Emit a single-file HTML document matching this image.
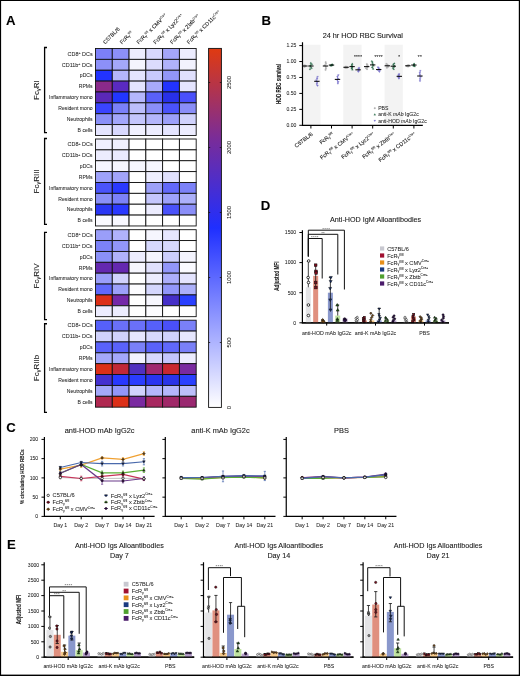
<!DOCTYPE html>
<html><head><meta charset="utf-8"><style>
html,body{margin:0;padding:0;background:#fff;}
text{stroke:#1a1a1a;stroke-width:0.1px;}
body{width:520px;height:676px;overflow:hidden;}
svg{display:block;font-family:"Liberation Sans", sans-serif;will-change:transform;}
</style></head><body>
<svg width="520" height="676" viewBox="0 0 520 676">
<rect x="0" y="0" width="520" height="676" fill="#fff"/>
<rect x="95.50" y="48.50" width="16.78" height="10.87" fill="#7c80f8" stroke="#111" stroke-width="0.9"/>
<rect x="112.28" y="48.50" width="16.78" height="10.87" fill="#8c90f8" stroke="#111" stroke-width="0.9"/>
<rect x="129.06" y="48.50" width="16.78" height="10.87" fill="#ececfe" stroke="#111" stroke-width="0.9"/>
<rect x="145.84" y="48.50" width="16.78" height="10.87" fill="#d8d8fd" stroke="#111" stroke-width="0.9"/>
<rect x="162.62" y="48.50" width="16.78" height="10.87" fill="#a4a6fa" stroke="#111" stroke-width="0.9"/>
<rect x="179.40" y="48.50" width="16.78" height="10.87" fill="#ececfe" stroke="#111" stroke-width="0.9"/>
<text x="92.60" y="55.73" font-size="5.1" text-anchor="end" fill="#1a1a1a" textLength="25.0" lengthAdjust="spacingAndGlyphs" style="stroke-width:0.04px">CD8<tspan font-size="3.3" dy="-1.6">+</tspan><tspan dy="1.6"> DCs</tspan></text>
<rect x="95.50" y="59.37" width="16.78" height="10.87" fill="#8c90f8" stroke="#111" stroke-width="0.9"/>
<rect x="112.28" y="59.37" width="16.78" height="10.87" fill="#a4a8fa" stroke="#111" stroke-width="0.9"/>
<rect x="129.06" y="59.37" width="16.78" height="10.87" fill="#f4f4fe" stroke="#111" stroke-width="0.9"/>
<rect x="145.84" y="59.37" width="16.78" height="10.87" fill="#dcdcfd" stroke="#111" stroke-width="0.9"/>
<rect x="162.62" y="59.37" width="16.78" height="10.87" fill="#b0b2fb" stroke="#111" stroke-width="0.9"/>
<rect x="179.40" y="59.37" width="16.78" height="10.87" fill="#f2f2fe" stroke="#111" stroke-width="0.9"/>
<text x="92.60" y="66.60" font-size="5.1" text-anchor="end" fill="#1a1a1a" textLength="30.8" lengthAdjust="spacingAndGlyphs" style="stroke-width:0.04px">CD11b<tspan font-size="3.3" dy="-1.6">+</tspan><tspan dy="1.6"> DCs</tspan></text>
<rect x="95.50" y="70.24" width="16.78" height="10.87" fill="#2233ff" stroke="#111" stroke-width="0.9"/>
<rect x="112.28" y="70.24" width="16.78" height="10.87" fill="#b4b6fb" stroke="#111" stroke-width="0.9"/>
<rect x="129.06" y="70.24" width="16.78" height="10.87" fill="#e4e4fe" stroke="#111" stroke-width="0.9"/>
<rect x="145.84" y="70.24" width="16.78" height="10.87" fill="#c8c9fc" stroke="#111" stroke-width="0.9"/>
<rect x="162.62" y="70.24" width="16.78" height="10.87" fill="#9296f9" stroke="#111" stroke-width="0.9"/>
<rect x="179.40" y="70.24" width="16.78" height="10.87" fill="#e0e0fd" stroke="#111" stroke-width="0.9"/>
<text x="92.60" y="77.47" font-size="5.1" text-anchor="end" fill="#1a1a1a" style="stroke-width:0.04px">pDCs</text>
<rect x="95.50" y="81.11" width="16.78" height="10.87" fill="#8a2a8a" stroke="#111" stroke-width="0.9"/>
<rect x="112.28" y="81.11" width="16.78" height="10.87" fill="#5a2ac0" stroke="#111" stroke-width="0.9"/>
<rect x="129.06" y="81.11" width="16.78" height="10.87" fill="#e4e4fe" stroke="#111" stroke-width="0.9"/>
<rect x="145.84" y="81.11" width="16.78" height="10.87" fill="#a8aafa" stroke="#111" stroke-width="0.9"/>
<rect x="162.62" y="81.11" width="16.78" height="10.87" fill="#2233ff" stroke="#111" stroke-width="0.9"/>
<rect x="179.40" y="81.11" width="16.78" height="10.87" fill="#e4e4fe" stroke="#111" stroke-width="0.9"/>
<text x="92.60" y="88.34" font-size="5.1" text-anchor="end" fill="#1a1a1a" style="stroke-width:0.04px">RPMs</text>
<rect x="95.50" y="91.98" width="16.78" height="10.87" fill="#5a28b8" stroke="#111" stroke-width="0.9"/>
<rect x="112.28" y="91.98" width="16.78" height="10.87" fill="#2236ff" stroke="#111" stroke-width="0.9"/>
<rect x="129.06" y="91.98" width="16.78" height="10.87" fill="#b4b6fb" stroke="#111" stroke-width="0.9"/>
<rect x="145.84" y="91.98" width="16.78" height="10.87" fill="#5a60fa" stroke="#111" stroke-width="0.9"/>
<rect x="162.62" y="91.98" width="16.78" height="10.87" fill="#2830e8" stroke="#111" stroke-width="0.9"/>
<rect x="179.40" y="91.98" width="16.78" height="10.87" fill="#4a50fa" stroke="#111" stroke-width="0.9"/>
<text x="92.60" y="99.21" font-size="5.1" text-anchor="end" fill="#1a1a1a" style="stroke-width:0.04px">Inflammatory mono</text>
<rect x="95.50" y="102.85" width="16.78" height="10.87" fill="#3a44ff" stroke="#111" stroke-width="0.9"/>
<rect x="112.28" y="102.85" width="16.78" height="10.87" fill="#7a80f8" stroke="#111" stroke-width="0.9"/>
<rect x="129.06" y="102.85" width="16.78" height="10.87" fill="#bcbefb" stroke="#111" stroke-width="0.9"/>
<rect x="145.84" y="102.85" width="16.78" height="10.87" fill="#8a8ef8" stroke="#111" stroke-width="0.9"/>
<rect x="162.62" y="102.85" width="16.78" height="10.87" fill="#4a52fa" stroke="#111" stroke-width="0.9"/>
<rect x="179.40" y="102.85" width="16.78" height="10.87" fill="#8a8ef8" stroke="#111" stroke-width="0.9"/>
<text x="92.60" y="110.08" font-size="5.1" text-anchor="end" fill="#1a1a1a" style="stroke-width:0.04px">Resident mono</text>
<rect x="95.50" y="113.72" width="16.78" height="10.87" fill="#8a90f8" stroke="#111" stroke-width="0.9"/>
<rect x="112.28" y="113.72" width="16.78" height="10.87" fill="#a2a6fa" stroke="#111" stroke-width="0.9"/>
<rect x="129.06" y="113.72" width="16.78" height="10.87" fill="#c4c6fc" stroke="#111" stroke-width="0.9"/>
<rect x="145.84" y="113.72" width="16.78" height="10.87" fill="#b4b6fb" stroke="#111" stroke-width="0.9"/>
<rect x="162.62" y="113.72" width="16.78" height="10.87" fill="#9ca0f9" stroke="#111" stroke-width="0.9"/>
<rect x="179.40" y="113.72" width="16.78" height="10.87" fill="#d0d2fc" stroke="#111" stroke-width="0.9"/>
<text x="92.60" y="120.95" font-size="5.1" text-anchor="end" fill="#1a1a1a" style="stroke-width:0.04px">Neutrophils</text>
<rect x="95.50" y="124.59" width="16.78" height="10.87" fill="#e4e4fe" stroke="#111" stroke-width="0.9"/>
<rect x="112.28" y="124.59" width="16.78" height="10.87" fill="#d8d8fd" stroke="#111" stroke-width="0.9"/>
<rect x="129.06" y="124.59" width="16.78" height="10.87" fill="#f0f0fe" stroke="#111" stroke-width="0.9"/>
<rect x="145.84" y="124.59" width="16.78" height="10.87" fill="#ececfe" stroke="#111" stroke-width="0.9"/>
<rect x="162.62" y="124.59" width="16.78" height="10.87" fill="#e4e4fe" stroke="#111" stroke-width="0.9"/>
<rect x="179.40" y="124.59" width="16.78" height="10.87" fill="#ececfe" stroke="#111" stroke-width="0.9"/>
<text x="92.60" y="131.82" font-size="5.1" text-anchor="end" fill="#1a1a1a" style="stroke-width:0.04px">B cells</text>
<path d="M47.0,47.50 H44.6 V132.70 H47.0" fill="none" stroke="#000" stroke-width="1.3"/>
<text transform="translate(39.2,90.10) rotate(-90)" font-size="8" text-anchor="middle" fill="#1a1a1a">Fc<tspan font-size="5.5" dy="1.2">γ</tspan><tspan dy="-1.2">RI</tspan></text>
<rect x="95.50" y="139.00" width="16.78" height="10.87" fill="#f0f0fe" stroke="#111" stroke-width="0.9"/>
<rect x="112.28" y="139.00" width="16.78" height="10.87" fill="#f0f0fe" stroke="#111" stroke-width="0.9"/>
<rect x="129.06" y="139.00" width="16.78" height="10.87" fill="#ffffff" stroke="#111" stroke-width="0.9"/>
<rect x="145.84" y="139.00" width="16.78" height="10.87" fill="#ffffff" stroke="#111" stroke-width="0.9"/>
<rect x="162.62" y="139.00" width="16.78" height="10.87" fill="#ffffff" stroke="#111" stroke-width="0.9"/>
<rect x="179.40" y="139.00" width="16.78" height="10.87" fill="#ffffff" stroke="#111" stroke-width="0.9"/>
<text x="92.60" y="146.24" font-size="5.1" text-anchor="end" fill="#1a1a1a" textLength="25.0" lengthAdjust="spacingAndGlyphs" style="stroke-width:0.04px">CD8<tspan font-size="3.3" dy="-1.6">+</tspan><tspan dy="1.6"> DCs</tspan></text>
<rect x="95.50" y="149.87" width="16.78" height="10.87" fill="#ececfe" stroke="#111" stroke-width="0.9"/>
<rect x="112.28" y="149.87" width="16.78" height="10.87" fill="#eaeafe" stroke="#111" stroke-width="0.9"/>
<rect x="129.06" y="149.87" width="16.78" height="10.87" fill="#ffffff" stroke="#111" stroke-width="0.9"/>
<rect x="145.84" y="149.87" width="16.78" height="10.87" fill="#ffffff" stroke="#111" stroke-width="0.9"/>
<rect x="162.62" y="149.87" width="16.78" height="10.87" fill="#ffffff" stroke="#111" stroke-width="0.9"/>
<rect x="179.40" y="149.87" width="16.78" height="10.87" fill="#ffffff" stroke="#111" stroke-width="0.9"/>
<text x="92.60" y="157.11" font-size="5.1" text-anchor="end" fill="#1a1a1a" textLength="30.8" lengthAdjust="spacingAndGlyphs" style="stroke-width:0.04px">CD11b<tspan font-size="3.3" dy="-1.6">+</tspan><tspan dy="1.6"> DCs</tspan></text>
<rect x="95.50" y="160.74" width="16.78" height="10.87" fill="#f6f6fe" stroke="#111" stroke-width="0.9"/>
<rect x="112.28" y="160.74" width="16.78" height="10.87" fill="#f6f6fe" stroke="#111" stroke-width="0.9"/>
<rect x="129.06" y="160.74" width="16.78" height="10.87" fill="#f6f6fe" stroke="#111" stroke-width="0.9"/>
<rect x="145.84" y="160.74" width="16.78" height="10.87" fill="#f6f6fe" stroke="#111" stroke-width="0.9"/>
<rect x="162.62" y="160.74" width="16.78" height="10.87" fill="#ffffff" stroke="#111" stroke-width="0.9"/>
<rect x="179.40" y="160.74" width="16.78" height="10.87" fill="#ffffff" stroke="#111" stroke-width="0.9"/>
<text x="92.60" y="167.98" font-size="5.1" text-anchor="end" fill="#1a1a1a" style="stroke-width:0.04px">pDCs</text>
<rect x="95.50" y="171.61" width="16.78" height="10.87" fill="#9ea2fa" stroke="#111" stroke-width="0.9"/>
<rect x="112.28" y="171.61" width="16.78" height="10.87" fill="#a2a4fa" stroke="#111" stroke-width="0.9"/>
<rect x="129.06" y="171.61" width="16.78" height="10.87" fill="#ffffff" stroke="#111" stroke-width="0.9"/>
<rect x="145.84" y="171.61" width="16.78" height="10.87" fill="#eeeefe" stroke="#111" stroke-width="0.9"/>
<rect x="162.62" y="171.61" width="16.78" height="10.87" fill="#e0e0fd" stroke="#111" stroke-width="0.9"/>
<rect x="179.40" y="171.61" width="16.78" height="10.87" fill="#ffffff" stroke="#111" stroke-width="0.9"/>
<text x="92.60" y="178.85" font-size="5.1" text-anchor="end" fill="#1a1a1a" style="stroke-width:0.04px">RPMs</text>
<rect x="95.50" y="182.48" width="16.78" height="10.87" fill="#4a54fa" stroke="#111" stroke-width="0.9"/>
<rect x="112.28" y="182.48" width="16.78" height="10.87" fill="#2a38ff" stroke="#111" stroke-width="0.9"/>
<rect x="129.06" y="182.48" width="16.78" height="10.87" fill="#ffffff" stroke="#111" stroke-width="0.9"/>
<rect x="145.84" y="182.48" width="16.78" height="10.87" fill="#9ca0f9" stroke="#111" stroke-width="0.9"/>
<rect x="162.62" y="182.48" width="16.78" height="10.87" fill="#6268f9" stroke="#111" stroke-width="0.9"/>
<rect x="179.40" y="182.48" width="16.78" height="10.87" fill="#7c82f8" stroke="#111" stroke-width="0.9"/>
<text x="92.60" y="189.72" font-size="5.1" text-anchor="end" fill="#1a1a1a" style="stroke-width:0.04px">Inflammatory mono</text>
<rect x="95.50" y="193.35" width="16.78" height="10.87" fill="#8a90f8" stroke="#111" stroke-width="0.9"/>
<rect x="112.28" y="193.35" width="16.78" height="10.87" fill="#7c82f8" stroke="#111" stroke-width="0.9"/>
<rect x="129.06" y="193.35" width="16.78" height="10.87" fill="#ffffff" stroke="#111" stroke-width="0.9"/>
<rect x="145.84" y="193.35" width="16.78" height="10.87" fill="#c4c6fc" stroke="#111" stroke-width="0.9"/>
<rect x="162.62" y="193.35" width="16.78" height="10.87" fill="#9ea2fa" stroke="#111" stroke-width="0.9"/>
<rect x="179.40" y="193.35" width="16.78" height="10.87" fill="#acb0fa" stroke="#111" stroke-width="0.9"/>
<text x="92.60" y="200.59" font-size="5.1" text-anchor="end" fill="#1a1a1a" style="stroke-width:0.04px">Resident mono</text>
<rect x="95.50" y="204.22" width="16.78" height="10.87" fill="#2a36f4" stroke="#111" stroke-width="0.9"/>
<rect x="112.28" y="204.22" width="16.78" height="10.87" fill="#2a38ff" stroke="#111" stroke-width="0.9"/>
<rect x="129.06" y="204.22" width="16.78" height="10.87" fill="#ffffff" stroke="#111" stroke-width="0.9"/>
<rect x="145.84" y="204.22" width="16.78" height="10.87" fill="#ececfe" stroke="#111" stroke-width="0.9"/>
<rect x="162.62" y="204.22" width="16.78" height="10.87" fill="#4a52fa" stroke="#111" stroke-width="0.9"/>
<rect x="179.40" y="204.22" width="16.78" height="10.87" fill="#8a8ef8" stroke="#111" stroke-width="0.9"/>
<text x="92.60" y="211.46" font-size="5.1" text-anchor="end" fill="#1a1a1a" style="stroke-width:0.04px">Neutrophils</text>
<rect x="95.50" y="215.09" width="16.78" height="10.87" fill="#fafaff" stroke="#111" stroke-width="0.9"/>
<rect x="112.28" y="215.09" width="16.78" height="10.87" fill="#f8f8ff" stroke="#111" stroke-width="0.9"/>
<rect x="129.06" y="215.09" width="16.78" height="10.87" fill="#ffffff" stroke="#111" stroke-width="0.9"/>
<rect x="145.84" y="215.09" width="16.78" height="10.87" fill="#ffffff" stroke="#111" stroke-width="0.9"/>
<rect x="162.62" y="215.09" width="16.78" height="10.87" fill="#ffffff" stroke="#111" stroke-width="0.9"/>
<rect x="179.40" y="215.09" width="16.78" height="10.87" fill="#ffffff" stroke="#111" stroke-width="0.9"/>
<text x="92.60" y="222.32" font-size="5.1" text-anchor="end" fill="#1a1a1a" style="stroke-width:0.04px">B cells</text>
<path d="M47.0,138.50 H44.6 V224.40 H47.0" fill="none" stroke="#000" stroke-width="1.3"/>
<text transform="translate(39.2,181.45) rotate(-90)" font-size="8" text-anchor="middle" fill="#1a1a1a">Fc<tspan font-size="5.5" dy="1.2">γ</tspan><tspan dy="-1.2">RIII</tspan></text>
<rect x="95.50" y="229.70" width="16.78" height="10.87" fill="#9a9ef9" stroke="#111" stroke-width="0.9"/>
<rect x="112.28" y="229.70" width="16.78" height="10.87" fill="#b0b2fb" stroke="#111" stroke-width="0.9"/>
<rect x="129.06" y="229.70" width="16.78" height="10.87" fill="#ffffff" stroke="#111" stroke-width="0.9"/>
<rect x="145.84" y="229.70" width="16.78" height="10.87" fill="#f6f6fe" stroke="#111" stroke-width="0.9"/>
<rect x="162.62" y="229.70" width="16.78" height="10.87" fill="#e6e6fe" stroke="#111" stroke-width="0.9"/>
<rect x="179.40" y="229.70" width="16.78" height="10.87" fill="#ffffff" stroke="#111" stroke-width="0.9"/>
<text x="92.60" y="236.94" font-size="5.1" text-anchor="end" fill="#1a1a1a" textLength="25.0" lengthAdjust="spacingAndGlyphs" style="stroke-width:0.04px">CD8<tspan font-size="3.3" dy="-1.6">+</tspan><tspan dy="1.6"> DCs</tspan></text>
<rect x="95.50" y="240.57" width="16.78" height="10.87" fill="#7c82f8" stroke="#111" stroke-width="0.9"/>
<rect x="112.28" y="240.57" width="16.78" height="10.87" fill="#9296f9" stroke="#111" stroke-width="0.9"/>
<rect x="129.06" y="240.57" width="16.78" height="10.87" fill="#ffffff" stroke="#111" stroke-width="0.9"/>
<rect x="145.84" y="240.57" width="16.78" height="10.87" fill="#d6d8fd" stroke="#111" stroke-width="0.9"/>
<rect x="162.62" y="240.57" width="16.78" height="10.87" fill="#d6d8fd" stroke="#111" stroke-width="0.9"/>
<rect x="179.40" y="240.57" width="16.78" height="10.87" fill="#ffffff" stroke="#111" stroke-width="0.9"/>
<text x="92.60" y="247.81" font-size="5.1" text-anchor="end" fill="#1a1a1a" textLength="30.8" lengthAdjust="spacingAndGlyphs" style="stroke-width:0.04px">CD11b<tspan font-size="3.3" dy="-1.6">+</tspan><tspan dy="1.6"> DCs</tspan></text>
<rect x="95.50" y="251.44" width="16.78" height="10.87" fill="#8a90f8" stroke="#111" stroke-width="0.9"/>
<rect x="112.28" y="251.44" width="16.78" height="10.87" fill="#b0b2fb" stroke="#111" stroke-width="0.9"/>
<rect x="129.06" y="251.44" width="16.78" height="10.87" fill="#ececfe" stroke="#111" stroke-width="0.9"/>
<rect x="145.84" y="251.44" width="16.78" height="10.87" fill="#f4f4fe" stroke="#111" stroke-width="0.9"/>
<rect x="162.62" y="251.44" width="16.78" height="10.87" fill="#cccefc" stroke="#111" stroke-width="0.9"/>
<rect x="179.40" y="251.44" width="16.78" height="10.87" fill="#f4f4fe" stroke="#111" stroke-width="0.9"/>
<text x="92.60" y="258.68" font-size="5.1" text-anchor="end" fill="#1a1a1a" style="stroke-width:0.04px">pDCs</text>
<rect x="95.50" y="262.31" width="16.78" height="10.87" fill="#6428b0" stroke="#111" stroke-width="0.9"/>
<rect x="112.28" y="262.31" width="16.78" height="10.87" fill="#6428b0" stroke="#111" stroke-width="0.9"/>
<rect x="129.06" y="262.31" width="16.78" height="10.87" fill="#f6f6fe" stroke="#111" stroke-width="0.9"/>
<rect x="145.84" y="262.31" width="16.78" height="10.87" fill="#e0e0fd" stroke="#111" stroke-width="0.9"/>
<rect x="162.62" y="262.31" width="16.78" height="10.87" fill="#9296f9" stroke="#111" stroke-width="0.9"/>
<rect x="179.40" y="262.31" width="16.78" height="10.87" fill="#fafaff" stroke="#111" stroke-width="0.9"/>
<text x="92.60" y="269.55" font-size="5.1" text-anchor="end" fill="#1a1a1a" style="stroke-width:0.04px">RPMs</text>
<rect x="95.50" y="273.18" width="16.78" height="10.87" fill="#9a9ef9" stroke="#111" stroke-width="0.9"/>
<rect x="112.28" y="273.18" width="16.78" height="10.87" fill="#d0d2fc" stroke="#111" stroke-width="0.9"/>
<rect x="129.06" y="273.18" width="16.78" height="10.87" fill="#ffffff" stroke="#111" stroke-width="0.9"/>
<rect x="145.84" y="273.18" width="16.78" height="10.87" fill="#ececfe" stroke="#111" stroke-width="0.9"/>
<rect x="162.62" y="273.18" width="16.78" height="10.87" fill="#acaefa" stroke="#111" stroke-width="0.9"/>
<rect x="179.40" y="273.18" width="16.78" height="10.87" fill="#e4e4fe" stroke="#111" stroke-width="0.9"/>
<text x="92.60" y="280.42" font-size="5.1" text-anchor="end" fill="#1a1a1a" style="stroke-width:0.04px">Inflammatory mono</text>
<rect x="95.50" y="284.05" width="16.78" height="10.87" fill="#6068fa" stroke="#111" stroke-width="0.9"/>
<rect x="112.28" y="284.05" width="16.78" height="10.87" fill="#9ca0f9" stroke="#111" stroke-width="0.9"/>
<rect x="129.06" y="284.05" width="16.78" height="10.87" fill="#fcfcff" stroke="#111" stroke-width="0.9"/>
<rect x="145.84" y="284.05" width="16.78" height="10.87" fill="#d4d6fd" stroke="#111" stroke-width="0.9"/>
<rect x="162.62" y="284.05" width="16.78" height="10.87" fill="#9296f9" stroke="#111" stroke-width="0.9"/>
<rect x="179.40" y="284.05" width="16.78" height="10.87" fill="#acb0fa" stroke="#111" stroke-width="0.9"/>
<text x="92.60" y="291.28" font-size="5.1" text-anchor="end" fill="#1a1a1a" style="stroke-width:0.04px">Resident mono</text>
<rect x="95.50" y="294.92" width="16.78" height="10.87" fill="#dc3018" stroke="#111" stroke-width="0.9"/>
<rect x="112.28" y="294.92" width="16.78" height="10.87" fill="#7428a8" stroke="#111" stroke-width="0.9"/>
<rect x="129.06" y="294.92" width="16.78" height="10.87" fill="#ffffff" stroke="#111" stroke-width="0.9"/>
<rect x="145.84" y="294.92" width="16.78" height="10.87" fill="#f6f6fe" stroke="#111" stroke-width="0.9"/>
<rect x="162.62" y="294.92" width="16.78" height="10.87" fill="#4630c8" stroke="#111" stroke-width="0.9"/>
<rect x="179.40" y="294.92" width="16.78" height="10.87" fill="#2a40ff" stroke="#111" stroke-width="0.9"/>
<text x="92.60" y="302.15" font-size="5.1" text-anchor="end" fill="#1a1a1a" style="stroke-width:0.04px">Neutrophils</text>
<rect x="95.50" y="305.79" width="16.78" height="10.87" fill="#ececfe" stroke="#111" stroke-width="0.9"/>
<rect x="112.28" y="305.79" width="16.78" height="10.87" fill="#ececfe" stroke="#111" stroke-width="0.9"/>
<rect x="129.06" y="305.79" width="16.78" height="10.87" fill="#ffffff" stroke="#111" stroke-width="0.9"/>
<rect x="145.84" y="305.79" width="16.78" height="10.87" fill="#fcfcff" stroke="#111" stroke-width="0.9"/>
<rect x="162.62" y="305.79" width="16.78" height="10.87" fill="#ffffff" stroke="#111" stroke-width="0.9"/>
<rect x="179.40" y="305.79" width="16.78" height="10.87" fill="#ffffff" stroke="#111" stroke-width="0.9"/>
<text x="92.60" y="313.02" font-size="5.1" text-anchor="end" fill="#1a1a1a" style="stroke-width:0.04px">B cells</text>
<path d="M47.0,232.30 H44.6 V319.60 H47.0" fill="none" stroke="#000" stroke-width="1.3"/>
<text transform="translate(39.2,275.95) rotate(-90)" font-size="8" text-anchor="middle" fill="#1a1a1a">Fc<tspan font-size="5.5" dy="1.2">γ</tspan><tspan dy="-1.2">RIV</tspan></text>
<rect x="95.50" y="320.20" width="16.78" height="10.87" fill="#5660fa" stroke="#111" stroke-width="0.9"/>
<rect x="112.28" y="320.20" width="16.78" height="10.87" fill="#6a70f9" stroke="#111" stroke-width="0.9"/>
<rect x="129.06" y="320.20" width="16.78" height="10.87" fill="#6a70f9" stroke="#111" stroke-width="0.9"/>
<rect x="145.84" y="320.20" width="16.78" height="10.87" fill="#5660fa" stroke="#111" stroke-width="0.9"/>
<rect x="162.62" y="320.20" width="16.78" height="10.87" fill="#4a50f8" stroke="#111" stroke-width="0.9"/>
<rect x="179.40" y="320.20" width="16.78" height="10.87" fill="#7a80f8" stroke="#111" stroke-width="0.9"/>
<text x="92.60" y="327.44" font-size="5.1" text-anchor="end" fill="#1a1a1a" textLength="25.0" lengthAdjust="spacingAndGlyphs" style="stroke-width:0.04px">CD8<tspan font-size="3.3" dy="-1.6">+</tspan><tspan dy="1.6"> DCs</tspan></text>
<rect x="95.50" y="331.07" width="16.78" height="10.87" fill="#d0d2fc" stroke="#111" stroke-width="0.9"/>
<rect x="112.28" y="331.07" width="16.78" height="10.87" fill="#d0d2fc" stroke="#111" stroke-width="0.9"/>
<rect x="129.06" y="331.07" width="16.78" height="10.87" fill="#e6e6fe" stroke="#111" stroke-width="0.9"/>
<rect x="145.84" y="331.07" width="16.78" height="10.87" fill="#d6d8fd" stroke="#111" stroke-width="0.9"/>
<rect x="162.62" y="331.07" width="16.78" height="10.87" fill="#d0d2fc" stroke="#111" stroke-width="0.9"/>
<rect x="179.40" y="331.07" width="16.78" height="10.87" fill="#e6e6fe" stroke="#111" stroke-width="0.9"/>
<text x="92.60" y="338.31" font-size="5.1" text-anchor="end" fill="#1a1a1a" textLength="30.8" lengthAdjust="spacingAndGlyphs" style="stroke-width:0.04px">CD11b<tspan font-size="3.3" dy="-1.6">+</tspan><tspan dy="1.6"> DCs</tspan></text>
<rect x="95.50" y="341.94" width="16.78" height="10.87" fill="#5a62fa" stroke="#111" stroke-width="0.9"/>
<rect x="112.28" y="341.94" width="16.78" height="10.87" fill="#5a62fa" stroke="#111" stroke-width="0.9"/>
<rect x="129.06" y="341.94" width="16.78" height="10.87" fill="#7a80f8" stroke="#111" stroke-width="0.9"/>
<rect x="145.84" y="341.94" width="16.78" height="10.87" fill="#5a62fa" stroke="#111" stroke-width="0.9"/>
<rect x="162.62" y="341.94" width="16.78" height="10.87" fill="#6068fa" stroke="#111" stroke-width="0.9"/>
<rect x="179.40" y="341.94" width="16.78" height="10.87" fill="#7a80f8" stroke="#111" stroke-width="0.9"/>
<text x="92.60" y="349.18" font-size="5.1" text-anchor="end" fill="#1a1a1a" style="stroke-width:0.04px">pDCs</text>
<rect x="95.50" y="352.81" width="16.78" height="10.87" fill="#a4a8fa" stroke="#111" stroke-width="0.9"/>
<rect x="112.28" y="352.81" width="16.78" height="10.87" fill="#a4a8fa" stroke="#111" stroke-width="0.9"/>
<rect x="129.06" y="352.81" width="16.78" height="10.87" fill="#f2f2fe" stroke="#111" stroke-width="0.9"/>
<rect x="145.84" y="352.81" width="16.78" height="10.87" fill="#d8d8fd" stroke="#111" stroke-width="0.9"/>
<rect x="162.62" y="352.81" width="16.78" height="10.87" fill="#c4c6fc" stroke="#111" stroke-width="0.9"/>
<rect x="179.40" y="352.81" width="16.78" height="10.87" fill="#ececfe" stroke="#111" stroke-width="0.9"/>
<text x="92.60" y="360.05" font-size="5.1" text-anchor="end" fill="#1a1a1a" style="stroke-width:0.04px">RPMs</text>
<rect x="95.50" y="363.68" width="16.78" height="10.87" fill="#dc3018" stroke="#111" stroke-width="0.9"/>
<rect x="112.28" y="363.68" width="16.78" height="10.87" fill="#c02838" stroke="#111" stroke-width="0.9"/>
<rect x="129.06" y="363.68" width="16.78" height="10.87" fill="#5030c0" stroke="#111" stroke-width="0.9"/>
<rect x="145.84" y="363.68" width="16.78" height="10.87" fill="#a02870" stroke="#111" stroke-width="0.9"/>
<rect x="162.62" y="363.68" width="16.78" height="10.87" fill="#c82830" stroke="#111" stroke-width="0.9"/>
<rect x="179.40" y="363.68" width="16.78" height="10.87" fill="#7a2aa0" stroke="#111" stroke-width="0.9"/>
<text x="92.60" y="370.92" font-size="5.1" text-anchor="end" fill="#1a1a1a" style="stroke-width:0.04px">Inflammatory mono</text>
<rect x="95.50" y="374.55" width="16.78" height="10.87" fill="#4430d0" stroke="#111" stroke-width="0.9"/>
<rect x="112.28" y="374.55" width="16.78" height="10.87" fill="#2838ff" stroke="#111" stroke-width="0.9"/>
<rect x="129.06" y="374.55" width="16.78" height="10.87" fill="#2a3cff" stroke="#111" stroke-width="0.9"/>
<rect x="145.84" y="374.55" width="16.78" height="10.87" fill="#2a34f0" stroke="#111" stroke-width="0.9"/>
<rect x="162.62" y="374.55" width="16.78" height="10.87" fill="#2a34e8" stroke="#111" stroke-width="0.9"/>
<rect x="179.40" y="374.55" width="16.78" height="10.87" fill="#2a40ff" stroke="#111" stroke-width="0.9"/>
<text x="92.60" y="381.78" font-size="5.1" text-anchor="end" fill="#1a1a1a" style="stroke-width:0.04px">Resident mono</text>
<rect x="95.50" y="385.42" width="16.78" height="10.87" fill="#a4a8fa" stroke="#111" stroke-width="0.9"/>
<rect x="112.28" y="385.42" width="16.78" height="10.87" fill="#9296f9" stroke="#111" stroke-width="0.9"/>
<rect x="129.06" y="385.42" width="16.78" height="10.87" fill="#d0d2fc" stroke="#111" stroke-width="0.9"/>
<rect x="145.84" y="385.42" width="16.78" height="10.87" fill="#b4b6fb" stroke="#111" stroke-width="0.9"/>
<rect x="162.62" y="385.42" width="16.78" height="10.87" fill="#b4b6fb" stroke="#111" stroke-width="0.9"/>
<rect x="179.40" y="385.42" width="16.78" height="10.87" fill="#bcbefb" stroke="#111" stroke-width="0.9"/>
<text x="92.60" y="392.65" font-size="5.1" text-anchor="end" fill="#1a1a1a" style="stroke-width:0.04px">Neutrophils</text>
<rect x="95.50" y="396.29" width="16.78" height="10.87" fill="#b02850" stroke="#111" stroke-width="0.9"/>
<rect x="112.28" y="396.29" width="16.78" height="10.87" fill="#dc3018" stroke="#111" stroke-width="0.9"/>
<rect x="129.06" y="396.29" width="16.78" height="10.87" fill="#7a2aa0" stroke="#111" stroke-width="0.9"/>
<rect x="145.84" y="396.29" width="16.78" height="10.87" fill="#a82860" stroke="#111" stroke-width="0.9"/>
<rect x="162.62" y="396.29" width="16.78" height="10.87" fill="#a02868" stroke="#111" stroke-width="0.9"/>
<rect x="179.40" y="396.29" width="16.78" height="10.87" fill="#9a2870" stroke="#111" stroke-width="0.9"/>
<text x="92.60" y="403.52" font-size="5.1" text-anchor="end" fill="#1a1a1a" style="stroke-width:0.04px">B cells</text>
<path d="M47.0,323.75 H44.6 V412.30 H47.0" fill="none" stroke="#000" stroke-width="1.3"/>
<text transform="translate(39.2,368.02) rotate(-90)" font-size="8" text-anchor="middle" fill="#1a1a1a">Fc<tspan font-size="5.5" dy="1.2">γ</tspan><tspan dy="-1.2">RIIb</tspan></text>
<text transform="translate(105.19,44.4) rotate(-45)" font-size="5.45" fill="#1a1a1a">C57BL/6</text>
<text transform="translate(121.97,44.4) rotate(-45)" font-size="5.45" fill="#1a1a1a">FcR<tspan font-size="3.60" dy="0.55">γ</tspan><tspan font-size="3.16" dy="-2.45" style="stroke-width:0.06px">fl/fl</tspan></text>
<text transform="translate(138.75,44.4) rotate(-45)" font-size="5.45" fill="#1a1a1a">FcR<tspan font-size="3.60" dy="0.55">γ</tspan><tspan font-size="3.16" dy="-2.45" style="stroke-width:0.06px">fl/fl</tspan><tspan dy="1.91"> x CMV</tspan><tspan font-size="3.16" dy="-2.18" style="stroke-width:0.06px">Cre+</tspan></text>
<text transform="translate(155.53,44.4) rotate(-45)" font-size="5.45" fill="#1a1a1a">FcR<tspan font-size="3.60" dy="0.55">γ</tspan><tspan font-size="3.16" dy="-2.45" style="stroke-width:0.06px">fl/fl</tspan><tspan dy="1.91"> x Lyz2</tspan><tspan font-size="3.16" dy="-2.18" style="stroke-width:0.06px">Cre+</tspan></text>
<text transform="translate(172.31,44.4) rotate(-45)" font-size="5.45" fill="#1a1a1a">FcR<tspan font-size="3.60" dy="0.55">γ</tspan><tspan font-size="3.16" dy="-2.45" style="stroke-width:0.06px">fl/fl</tspan><tspan dy="1.91"> x Zbtb</tspan><tspan font-size="3.16" dy="-2.18" style="stroke-width:0.06px">Cre+</tspan></text>
<text transform="translate(189.09,44.4) rotate(-45)" font-size="5.45" fill="#1a1a1a">FcR<tspan font-size="3.60" dy="0.55">γ</tspan><tspan font-size="3.16" dy="-2.45" style="stroke-width:0.06px">fl/fl</tspan><tspan dy="1.91"> x CD11c</tspan><tspan font-size="3.16" dy="-2.18" style="stroke-width:0.06px">Cre+</tspan></text>
<defs><linearGradient id="cb" x1="0" y1="1" x2="0" y2="0"><stop offset="0" stop-color="#ffffff"/><stop offset="0.5" stop-color="#1f2fff"/><stop offset="0.75" stop-color="#7a2c98"/><stop offset="1" stop-color="#e03a10"/></linearGradient></defs>
<rect x="208.6" y="48.4" width="12.8" height="359" fill="url(#cb)" stroke="#111" stroke-width="0.9"/>
<text x="0.00" y="0.00" font-size="4.8" text-anchor="middle" fill="#1a1a1a" transform="translate(231.00,407.50) rotate(-90)" textLength="3.3" lengthAdjust="spacingAndGlyphs" style="stroke-width:0.04px">0</text>
<path d="M208.6,342.50 h1.6 M221.4,342.50 h-1.6" stroke="#111" stroke-width="0.8"/>
<text x="0.00" y="0.00" font-size="4.8" text-anchor="middle" fill="#1a1a1a" transform="translate(231.00,342.50) rotate(-90)" textLength="10.0" lengthAdjust="spacingAndGlyphs" style="stroke-width:0.04px">500</text>
<path d="M208.6,277.50 h1.6 M221.4,277.50 h-1.6" stroke="#111" stroke-width="0.8"/>
<text x="0.00" y="0.00" font-size="4.8" text-anchor="middle" fill="#1a1a1a" transform="translate(231.00,277.50) rotate(-90)" textLength="13.0" lengthAdjust="spacingAndGlyphs" style="stroke-width:0.04px">1000</text>
<path d="M208.6,212.50 h1.6 M221.4,212.50 h-1.6" stroke="#111" stroke-width="0.8"/>
<text x="0.00" y="0.00" font-size="4.8" text-anchor="middle" fill="#1a1a1a" transform="translate(231.00,212.50) rotate(-90)" textLength="13.0" lengthAdjust="spacingAndGlyphs" style="stroke-width:0.04px">1500</text>
<path d="M208.6,147.50 h1.6 M221.4,147.50 h-1.6" stroke="#111" stroke-width="0.8"/>
<text x="0.00" y="0.00" font-size="4.8" text-anchor="middle" fill="#1a1a1a" transform="translate(231.00,147.50) rotate(-90)" textLength="13.0" lengthAdjust="spacingAndGlyphs" style="stroke-width:0.04px">2000</text>
<path d="M208.6,82.50 h1.6 M221.4,82.50 h-1.6" stroke="#111" stroke-width="0.8"/>
<text x="0.00" y="0.00" font-size="4.8" text-anchor="middle" fill="#1a1a1a" transform="translate(231.00,82.50) rotate(-90)" textLength="13.0" lengthAdjust="spacingAndGlyphs" style="stroke-width:0.04px">2500</text>
<text x="6.00" y="25.20" font-size="13.2" text-anchor="start" font-weight="bold" fill="#000">A</text>
<text x="261.40" y="25.40" font-size="13.2" text-anchor="start" font-weight="bold" fill="#000">B</text>
<text x="6.30" y="431.70" font-size="13.2" text-anchor="start" font-weight="bold" fill="#000">C</text>
<text x="260.80" y="209.80" font-size="13.2" text-anchor="start" font-weight="bold" fill="#000">D</text>
<text x="7.00" y="549.20" font-size="13.2" text-anchor="start" font-weight="bold" fill="#000">E</text>
<rect x="303.0" y="44.7" width="17.50" height="80.60" fill="#f3f3f3"/>
<rect x="343.3" y="44.7" width="18.30" height="80.60" fill="#f3f3f3"/>
<rect x="384.6" y="44.7" width="18.20" height="80.60" fill="#f3f3f3"/>
<path d="M302.5,42.3 V125.3 H422.8" fill="none" stroke="#000" stroke-width="1.2"/>
<path d="M299.3,125.30 H302.5" stroke="#000" stroke-width="1.0"/>
<text x="296.40" y="127.10" font-size="5.1" text-anchor="end" fill="#1a1a1a" style="stroke-width:0.04px">0.00</text>
<path d="M299.3,109.36 H302.5" stroke="#000" stroke-width="1.0"/>
<text x="296.40" y="111.16" font-size="5.1" text-anchor="end" fill="#1a1a1a" style="stroke-width:0.04px">0.25</text>
<path d="M299.3,93.42 H302.5" stroke="#000" stroke-width="1.0"/>
<text x="296.40" y="95.22" font-size="5.1" text-anchor="end" fill="#1a1a1a" style="stroke-width:0.04px">0.50</text>
<path d="M299.3,77.48 H302.5" stroke="#000" stroke-width="1.0"/>
<text x="296.40" y="79.28" font-size="5.1" text-anchor="end" fill="#1a1a1a" style="stroke-width:0.04px">0.75</text>
<path d="M299.3,61.54 H302.5" stroke="#000" stroke-width="1.0"/>
<text x="296.40" y="63.34" font-size="5.1" text-anchor="end" fill="#1a1a1a" style="stroke-width:0.04px">1.00</text>
<path d="M299.3,45.60 H302.5" stroke="#000" stroke-width="1.0"/>
<text x="296.40" y="47.40" font-size="5.1" text-anchor="end" fill="#1a1a1a" style="stroke-width:0.04px">1.25</text>
<path d="M310.90,125.3 V128.5" stroke="#000" stroke-width="1.0"/>
<path d="M331.50,125.3 V128.5" stroke="#000" stroke-width="1.0"/>
<path d="M352.10,125.3 V128.5" stroke="#000" stroke-width="1.0"/>
<path d="M372.70,125.3 V128.5" stroke="#000" stroke-width="1.0"/>
<path d="M393.30,125.3 V128.5" stroke="#000" stroke-width="1.0"/>
<path d="M413.90,125.3 V128.5" stroke="#000" stroke-width="1.0"/>
<text x="362.80" y="38.00" font-size="7.3" text-anchor="middle" fill="#1a1a1a">24 hr HOD RBC Survival</text>
<text x="0.00" y="0.00" font-size="6.4" text-anchor="middle" font-weight="bold" fill="#1a1a1a" transform="translate(281.30,84.00) rotate(-90)" textLength="40" lengthAdjust="spacingAndGlyphs">HOD RBC survival</text>
<path d="M304.90,65.37 V66.64" stroke="#b0b0b0" stroke-width="0.6"/>
<circle cx="304.38" cy="66.64" r="0.85" fill="#b0b0b0" stroke="#b0b0b0" stroke-width="0.2"/>
<circle cx="304.99" cy="66.39" r="0.85" fill="#b0b0b0" stroke="#b0b0b0" stroke-width="0.2"/>
<circle cx="304.64" cy="66.13" r="0.85" fill="#b0b0b0" stroke="#b0b0b0" stroke-width="0.2"/>
<circle cx="305.11" cy="65.88" r="0.85" fill="#b0b0b0" stroke="#b0b0b0" stroke-width="0.2"/>
<circle cx="305.15" cy="65.62" r="0.85" fill="#b0b0b0" stroke="#b0b0b0" stroke-width="0.2"/>
<circle cx="304.03" cy="65.37" r="0.85" fill="#b0b0b0" stroke="#b0b0b0" stroke-width="0.2"/>
<path d="M302.20,66.00 H307.60" stroke="#000" stroke-width="1.0"/>
<path d="M310.90,62.82 V69.19" stroke="#2f6e4e" stroke-width="0.6"/>
<path d="M309.93,68.26 L310.86,69.87 L308.99,69.87Z" fill="#2f6e4e" stroke="#2f6e4e" stroke-width="0.2"/>
<path d="M311.57,66.98 L312.51,68.60 L310.64,68.60Z" fill="#2f6e4e" stroke="#2f6e4e" stroke-width="0.2"/>
<path d="M310.42,65.71 L311.35,67.32 L309.48,67.32Z" fill="#2f6e4e" stroke="#2f6e4e" stroke-width="0.2"/>
<path d="M310.37,64.43 L311.30,66.05 L309.43,66.05Z" fill="#2f6e4e" stroke="#2f6e4e" stroke-width="0.2"/>
<path d="M311.89,63.16 L312.83,64.77 L310.96,64.77Z" fill="#2f6e4e" stroke="#2f6e4e" stroke-width="0.2"/>
<path d="M310.84,61.88 L311.78,63.50 L309.91,63.50Z" fill="#2f6e4e" stroke="#2f6e4e" stroke-width="0.2"/>
<path d="M308.20,66.00 H313.60" stroke="#000" stroke-width="1.0"/>
<path d="M316.90,76.84 V85.77" stroke="#7b73cc" stroke-width="0.6"/>
<path d="M317.57,86.70 L318.51,85.09 L316.64,85.09Z" fill="#7b73cc" stroke="#7b73cc" stroke-width="0.2"/>
<path d="M316.85,84.92 L317.79,83.30 L315.92,83.30Z" fill="#7b73cc" stroke="#7b73cc" stroke-width="0.2"/>
<path d="M317.18,83.13 L318.11,81.52 L316.24,81.52Z" fill="#7b73cc" stroke="#7b73cc" stroke-width="0.2"/>
<path d="M316.20,81.35 L317.14,79.73 L315.27,79.73Z" fill="#7b73cc" stroke="#7b73cc" stroke-width="0.2"/>
<path d="M317.17,79.56 L318.10,77.95 L316.23,77.95Z" fill="#7b73cc" stroke="#7b73cc" stroke-width="0.2"/>
<path d="M317.64,77.78 L318.57,76.16 L316.70,76.16Z" fill="#7b73cc" stroke="#7b73cc" stroke-width="0.2"/>
<path d="M314.20,81.31 H319.60" stroke="#000" stroke-width="1.0"/>
<path d="M325.50,62.18 V69.83" stroke="#b0b0b0" stroke-width="0.6"/>
<circle cx="325.55" cy="69.83" r="0.85" fill="#b0b0b0" stroke="#b0b0b0" stroke-width="0.2"/>
<circle cx="325.98" cy="68.30" r="0.85" fill="#b0b0b0" stroke="#b0b0b0" stroke-width="0.2"/>
<circle cx="325.84" cy="66.77" r="0.85" fill="#b0b0b0" stroke="#b0b0b0" stroke-width="0.2"/>
<circle cx="324.63" cy="65.24" r="0.85" fill="#b0b0b0" stroke="#b0b0b0" stroke-width="0.2"/>
<circle cx="326.02" cy="63.71" r="0.85" fill="#b0b0b0" stroke="#b0b0b0" stroke-width="0.2"/>
<circle cx="325.68" cy="62.18" r="0.85" fill="#b0b0b0" stroke="#b0b0b0" stroke-width="0.2"/>
<path d="M322.80,66.00 H328.20" stroke="#000" stroke-width="1.0"/>
<path d="M331.50,64.41 V65.68" stroke="#2f6e4e" stroke-width="0.6"/>
<path d="M331.10,64.75 L332.04,66.36 L330.17,66.36Z" fill="#2f6e4e" stroke="#2f6e4e" stroke-width="0.2"/>
<path d="M330.56,64.49 L331.50,66.11 L329.63,66.11Z" fill="#2f6e4e" stroke="#2f6e4e" stroke-width="0.2"/>
<path d="M332.23,64.24 L333.17,65.85 L331.30,65.85Z" fill="#2f6e4e" stroke="#2f6e4e" stroke-width="0.2"/>
<path d="M331.45,63.98 L332.38,65.60 L330.51,65.60Z" fill="#2f6e4e" stroke="#2f6e4e" stroke-width="0.2"/>
<path d="M331.94,63.73 L332.87,65.34 L331.00,65.34Z" fill="#2f6e4e" stroke="#2f6e4e" stroke-width="0.2"/>
<path d="M332.26,63.47 L333.19,65.09 L331.32,65.09Z" fill="#2f6e4e" stroke="#2f6e4e" stroke-width="0.2"/>
<path d="M328.80,65.05 H334.20" stroke="#000" stroke-width="1.0"/>
<path d="M337.50,75.25 V83.54" stroke="#7b73cc" stroke-width="0.6"/>
<path d="M337.93,84.47 L338.86,82.86 L336.99,82.86Z" fill="#7b73cc" stroke="#7b73cc" stroke-width="0.2"/>
<path d="M338.34,82.81 L339.28,81.20 L337.41,81.20Z" fill="#7b73cc" stroke="#7b73cc" stroke-width="0.2"/>
<path d="M337.29,81.16 L338.22,79.54 L336.35,79.54Z" fill="#7b73cc" stroke="#7b73cc" stroke-width="0.2"/>
<path d="M338.10,79.50 L339.04,77.88 L337.17,77.88Z" fill="#7b73cc" stroke="#7b73cc" stroke-width="0.2"/>
<path d="M337.39,77.84 L338.32,76.23 L336.45,76.23Z" fill="#7b73cc" stroke="#7b73cc" stroke-width="0.2"/>
<path d="M338.37,76.18 L339.31,74.57 L337.44,74.57Z" fill="#7b73cc" stroke="#7b73cc" stroke-width="0.2"/>
<path d="M334.80,79.39 H340.20" stroke="#000" stroke-width="1.0"/>
<path d="M346.10,66.64 V67.92" stroke="#b0b0b0" stroke-width="0.6"/>
<circle cx="346.86" cy="67.92" r="0.85" fill="#b0b0b0" stroke="#b0b0b0" stroke-width="0.2"/>
<circle cx="345.29" cy="67.66" r="0.85" fill="#b0b0b0" stroke="#b0b0b0" stroke-width="0.2"/>
<circle cx="345.37" cy="67.41" r="0.85" fill="#b0b0b0" stroke="#b0b0b0" stroke-width="0.2"/>
<circle cx="345.53" cy="67.15" r="0.85" fill="#b0b0b0" stroke="#b0b0b0" stroke-width="0.2"/>
<circle cx="347.03" cy="66.90" r="0.85" fill="#b0b0b0" stroke="#b0b0b0" stroke-width="0.2"/>
<circle cx="345.97" cy="66.64" r="0.85" fill="#b0b0b0" stroke="#b0b0b0" stroke-width="0.2"/>
<path d="M343.40,67.28 H348.80" stroke="#000" stroke-width="1.0"/>
<path d="M352.10,63.77 V69.51" stroke="#2f6e4e" stroke-width="0.6"/>
<path d="M352.35,68.57 L353.29,70.19 L351.42,70.19Z" fill="#2f6e4e" stroke="#2f6e4e" stroke-width="0.2"/>
<path d="M351.70,67.43 L352.64,69.04 L350.77,69.04Z" fill="#2f6e4e" stroke="#2f6e4e" stroke-width="0.2"/>
<path d="M352.11,66.28 L353.05,67.89 L351.18,67.89Z" fill="#2f6e4e" stroke="#2f6e4e" stroke-width="0.2"/>
<path d="M351.87,65.13 L352.81,66.75 L350.94,66.75Z" fill="#2f6e4e" stroke="#2f6e4e" stroke-width="0.2"/>
<path d="M351.80,63.98 L352.74,65.60 L350.87,65.60Z" fill="#2f6e4e" stroke="#2f6e4e" stroke-width="0.2"/>
<path d="M352.27,62.84 L353.21,64.45 L351.34,64.45Z" fill="#2f6e4e" stroke="#2f6e4e" stroke-width="0.2"/>
<path d="M349.40,66.64 H354.80" stroke="#000" stroke-width="1.0"/>
<path d="M358.10,67.92 V71.74" stroke="#7b73cc" stroke-width="0.6"/>
<path d="M358.27,72.68 L359.20,71.06 L357.33,71.06Z" fill="#7b73cc" stroke="#7b73cc" stroke-width="0.2"/>
<path d="M358.91,71.91 L359.84,70.30 L357.97,70.30Z" fill="#7b73cc" stroke="#7b73cc" stroke-width="0.2"/>
<path d="M358.46,71.15 L359.40,69.53 L357.53,69.53Z" fill="#7b73cc" stroke="#7b73cc" stroke-width="0.2"/>
<path d="M358.96,70.38 L359.89,68.77 L358.02,68.77Z" fill="#7b73cc" stroke="#7b73cc" stroke-width="0.2"/>
<path d="M358.81,69.62 L359.75,68.00 L357.88,68.00Z" fill="#7b73cc" stroke="#7b73cc" stroke-width="0.2"/>
<path d="M359.08,68.85 L360.02,67.24 L358.15,67.24Z" fill="#7b73cc" stroke="#7b73cc" stroke-width="0.2"/>
<path d="M355.40,69.83 H360.80" stroke="#000" stroke-width="1.0"/>
<path d="M366.70,64.09 V69.19" stroke="#b0b0b0" stroke-width="0.6"/>
<circle cx="367.04" cy="69.19" r="0.85" fill="#b0b0b0" stroke="#b0b0b0" stroke-width="0.2"/>
<circle cx="366.03" cy="68.17" r="0.85" fill="#b0b0b0" stroke="#b0b0b0" stroke-width="0.2"/>
<circle cx="367.42" cy="67.15" r="0.85" fill="#b0b0b0" stroke="#b0b0b0" stroke-width="0.2"/>
<circle cx="367.63" cy="66.13" r="0.85" fill="#b0b0b0" stroke="#b0b0b0" stroke-width="0.2"/>
<circle cx="367.51" cy="65.11" r="0.85" fill="#b0b0b0" stroke="#b0b0b0" stroke-width="0.2"/>
<circle cx="366.84" cy="64.09" r="0.85" fill="#b0b0b0" stroke="#b0b0b0" stroke-width="0.2"/>
<path d="M364.00,66.64 H369.40" stroke="#000" stroke-width="1.0"/>
<path d="M372.70,61.09 V68.74" stroke="#2f6e4e" stroke-width="0.6"/>
<path d="M373.13,67.81 L374.06,69.42 L372.19,69.42Z" fill="#2f6e4e" stroke="#2f6e4e" stroke-width="0.2"/>
<path d="M372.12,66.28 L373.06,67.89 L371.19,67.89Z" fill="#2f6e4e" stroke="#2f6e4e" stroke-width="0.2"/>
<path d="M373.36,64.75 L374.30,66.36 L372.43,66.36Z" fill="#2f6e4e" stroke="#2f6e4e" stroke-width="0.2"/>
<path d="M372.85,63.22 L373.78,64.83 L371.91,64.83Z" fill="#2f6e4e" stroke="#2f6e4e" stroke-width="0.2"/>
<path d="M372.27,61.69 L373.20,63.30 L371.33,63.30Z" fill="#2f6e4e" stroke="#2f6e4e" stroke-width="0.2"/>
<path d="M371.83,60.16 L372.76,61.77 L370.89,61.77Z" fill="#2f6e4e" stroke="#2f6e4e" stroke-width="0.2"/>
<path d="M370.00,64.92 H375.40" stroke="#000" stroke-width="1.0"/>
<path d="M378.70,67.34 V71.81" stroke="#7b73cc" stroke-width="0.6"/>
<path d="M379.41,72.74 L380.34,71.13 L378.47,71.13Z" fill="#7b73cc" stroke="#7b73cc" stroke-width="0.2"/>
<path d="M379.68,71.85 L380.61,70.23 L378.74,70.23Z" fill="#7b73cc" stroke="#7b73cc" stroke-width="0.2"/>
<path d="M377.88,70.96 L378.81,69.34 L376.94,69.34Z" fill="#7b73cc" stroke="#7b73cc" stroke-width="0.2"/>
<path d="M379.30,70.06 L380.24,68.45 L378.37,68.45Z" fill="#7b73cc" stroke="#7b73cc" stroke-width="0.2"/>
<path d="M378.52,69.17 L379.46,67.55 L377.59,67.55Z" fill="#7b73cc" stroke="#7b73cc" stroke-width="0.2"/>
<path d="M378.00,68.28 L378.94,66.66 L377.07,66.66Z" fill="#7b73cc" stroke="#7b73cc" stroke-width="0.2"/>
<path d="M376.00,69.57 H381.40" stroke="#000" stroke-width="1.0"/>
<path d="M387.30,63.90 V67.72" stroke="#b0b0b0" stroke-width="0.6"/>
<circle cx="386.89" cy="67.72" r="0.85" fill="#b0b0b0" stroke="#b0b0b0" stroke-width="0.2"/>
<circle cx="387.84" cy="66.96" r="0.85" fill="#b0b0b0" stroke="#b0b0b0" stroke-width="0.2"/>
<circle cx="388.05" cy="66.19" r="0.85" fill="#b0b0b0" stroke="#b0b0b0" stroke-width="0.2"/>
<circle cx="386.39" cy="65.43" r="0.85" fill="#b0b0b0" stroke="#b0b0b0" stroke-width="0.2"/>
<circle cx="387.53" cy="64.66" r="0.85" fill="#b0b0b0" stroke="#b0b0b0" stroke-width="0.2"/>
<circle cx="386.39" cy="63.90" r="0.85" fill="#b0b0b0" stroke="#b0b0b0" stroke-width="0.2"/>
<path d="M384.60,65.81 H390.00" stroke="#000" stroke-width="1.0"/>
<path d="M393.30,63.33 V69.06" stroke="#2f6e4e" stroke-width="0.6"/>
<path d="M393.74,68.13 L394.67,69.74 L392.80,69.74Z" fill="#2f6e4e" stroke="#2f6e4e" stroke-width="0.2"/>
<path d="M392.96,66.98 L393.90,68.60 L392.03,68.60Z" fill="#2f6e4e" stroke="#2f6e4e" stroke-width="0.2"/>
<path d="M394.06,65.83 L395.00,67.45 L393.13,67.45Z" fill="#2f6e4e" stroke="#2f6e4e" stroke-width="0.2"/>
<path d="M394.26,64.69 L395.20,66.30 L393.33,66.30Z" fill="#2f6e4e" stroke="#2f6e4e" stroke-width="0.2"/>
<path d="M393.31,63.54 L394.25,65.15 L392.38,65.15Z" fill="#2f6e4e" stroke="#2f6e4e" stroke-width="0.2"/>
<path d="M394.30,62.39 L395.23,64.01 L393.36,64.01Z" fill="#2f6e4e" stroke="#2f6e4e" stroke-width="0.2"/>
<path d="M390.60,66.19 H396.00" stroke="#000" stroke-width="1.0"/>
<path d="M399.30,74.10 V78.56" stroke="#7b73cc" stroke-width="0.6"/>
<path d="M398.92,79.50 L399.85,77.88 L397.98,77.88Z" fill="#7b73cc" stroke="#7b73cc" stroke-width="0.2"/>
<path d="M398.45,78.61 L399.39,76.99 L397.52,76.99Z" fill="#7b73cc" stroke="#7b73cc" stroke-width="0.2"/>
<path d="M399.50,77.71 L400.43,76.10 L398.56,76.10Z" fill="#7b73cc" stroke="#7b73cc" stroke-width="0.2"/>
<path d="M398.36,76.82 L399.30,75.21 L397.43,75.21Z" fill="#7b73cc" stroke="#7b73cc" stroke-width="0.2"/>
<path d="M398.69,75.93 L399.63,74.31 L397.76,74.31Z" fill="#7b73cc" stroke="#7b73cc" stroke-width="0.2"/>
<path d="M399.12,75.04 L400.05,73.42 L398.18,73.42Z" fill="#7b73cc" stroke="#7b73cc" stroke-width="0.2"/>
<path d="M396.60,76.33 H402.00" stroke="#000" stroke-width="1.0"/>
<path d="M407.90,65.17 V66.45" stroke="#b0b0b0" stroke-width="0.6"/>
<circle cx="408.12" cy="66.45" r="0.85" fill="#b0b0b0" stroke="#b0b0b0" stroke-width="0.2"/>
<circle cx="407.21" cy="66.19" r="0.85" fill="#b0b0b0" stroke="#b0b0b0" stroke-width="0.2"/>
<circle cx="406.98" cy="65.94" r="0.85" fill="#b0b0b0" stroke="#b0b0b0" stroke-width="0.2"/>
<circle cx="408.64" cy="65.68" r="0.85" fill="#b0b0b0" stroke="#b0b0b0" stroke-width="0.2"/>
<circle cx="407.53" cy="65.43" r="0.85" fill="#b0b0b0" stroke="#b0b0b0" stroke-width="0.2"/>
<circle cx="408.82" cy="65.17" r="0.85" fill="#b0b0b0" stroke="#b0b0b0" stroke-width="0.2"/>
<path d="M405.20,65.81 H410.60" stroke="#000" stroke-width="1.0"/>
<path d="M413.90,63.77 V66.32" stroke="#2f6e4e" stroke-width="0.6"/>
<path d="M414.69,65.39 L415.63,67.00 L413.76,67.00Z" fill="#2f6e4e" stroke="#2f6e4e" stroke-width="0.2"/>
<path d="M413.66,64.88 L414.59,66.49 L412.72,66.49Z" fill="#2f6e4e" stroke="#2f6e4e" stroke-width="0.2"/>
<path d="M413.82,64.37 L414.76,65.98 L412.89,65.98Z" fill="#2f6e4e" stroke="#2f6e4e" stroke-width="0.2"/>
<path d="M413.94,63.86 L414.88,65.47 L413.01,65.47Z" fill="#2f6e4e" stroke="#2f6e4e" stroke-width="0.2"/>
<path d="M414.19,63.35 L415.12,64.96 L413.25,64.96Z" fill="#2f6e4e" stroke="#2f6e4e" stroke-width="0.2"/>
<path d="M414.09,62.84 L415.03,64.45 L413.16,64.45Z" fill="#2f6e4e" stroke="#2f6e4e" stroke-width="0.2"/>
<path d="M411.20,65.05 H416.60" stroke="#000" stroke-width="1.0"/>
<path d="M419.90,70.91 V81.11" stroke="#7b73cc" stroke-width="0.6"/>
<path d="M420.02,82.05 L420.95,80.43 L419.08,80.43Z" fill="#7b73cc" stroke="#7b73cc" stroke-width="0.2"/>
<path d="M420.14,80.01 L421.08,78.39 L419.21,78.39Z" fill="#7b73cc" stroke="#7b73cc" stroke-width="0.2"/>
<path d="M420.78,77.97 L421.72,76.35 L419.85,76.35Z" fill="#7b73cc" stroke="#7b73cc" stroke-width="0.2"/>
<path d="M419.91,75.93 L420.85,74.31 L418.98,74.31Z" fill="#7b73cc" stroke="#7b73cc" stroke-width="0.2"/>
<path d="M419.76,73.89 L420.70,72.27 L418.83,72.27Z" fill="#7b73cc" stroke="#7b73cc" stroke-width="0.2"/>
<path d="M420.34,71.85 L421.28,70.23 L419.41,70.23Z" fill="#7b73cc" stroke="#7b73cc" stroke-width="0.2"/>
<path d="M417.20,76.01 H422.60" stroke="#000" stroke-width="1.0"/>
<text x="358.10" y="59.00" font-size="4.6" text-anchor="middle" fill="#1a1a1a" letter-spacing="0.3" style="stroke-width:0.05px">****</text>
<text x="378.70" y="59.00" font-size="4.6" text-anchor="middle" fill="#1a1a1a" letter-spacing="0.3" style="stroke-width:0.05px">****</text>
<text x="399.30" y="59.00" font-size="4.6" text-anchor="middle" fill="#1a1a1a" letter-spacing="0.3" style="stroke-width:0.05px">*</text>
<text x="419.90" y="59.00" font-size="4.6" text-anchor="middle" fill="#1a1a1a" letter-spacing="0.3" style="stroke-width:0.05px">**</text>
<circle cx="374.80" cy="108.20" r="0.90" fill="#b0b0b0" stroke="#b0b0b0" stroke-width="0.2"/>
<text x="378.20" y="110.10" font-size="5.15" text-anchor="start" fill="#1a1a1a" style="stroke-width:0.04px">PBS</text>
<path d="M374.80,113.51 L375.79,115.22 L373.81,115.22Z" fill="#2f6e4e" stroke="#2f6e4e" stroke-width="0.2"/>
<text x="378.20" y="116.40" font-size="5.15" text-anchor="start" fill="#1a1a1a" style="stroke-width:0.04px">anti-K <tspan font-style="italic">mAb</tspan> IgG2c</text>
<path d="M374.80,121.79 L375.79,120.08 L373.81,120.08Z" fill="#7b73cc" stroke="#7b73cc" stroke-width="0.2"/>
<text x="378.20" y="122.70" font-size="5.15" text-anchor="start" fill="#1a1a1a" style="stroke-width:0.04px">anti-HOD <tspan font-style="italic">mAb</tspan> IgG2c</text>
<text transform="translate(313.30,135.00) rotate(-37)" font-size="5.5" text-anchor="end" fill="#1a1a1a">C57BL/6</text>
<text transform="translate(333.90,135.00) rotate(-37)" font-size="5.5" text-anchor="end" fill="#1a1a1a">FcR<tspan font-size="3.63" dy="0.55">γ</tspan><tspan font-size="3.19" dy="-2.48" style="stroke-width:0.06px">fl/fl</tspan></text>
<text transform="translate(354.50,135.00) rotate(-37)" font-size="5.5" text-anchor="end" fill="#1a1a1a">FcR<tspan font-size="3.63" dy="0.55">γ</tspan><tspan font-size="3.19" dy="-2.48" style="stroke-width:0.06px">fl/fl</tspan><tspan dy="1.92"> x CMV</tspan><tspan font-size="3.19" dy="-2.20" style="stroke-width:0.06px">Cre+</tspan></text>
<text transform="translate(375.10,135.00) rotate(-37)" font-size="5.5" text-anchor="end" fill="#1a1a1a">FcR<tspan font-size="3.63" dy="0.55">γ</tspan><tspan font-size="3.19" dy="-2.48" style="stroke-width:0.06px">fl/fl</tspan><tspan dy="1.92"> x Lyz2</tspan><tspan font-size="3.19" dy="-2.20" style="stroke-width:0.06px">Cre+</tspan></text>
<text transform="translate(395.70,135.00) rotate(-37)" font-size="5.5" text-anchor="end" fill="#1a1a1a">FcR<tspan font-size="3.63" dy="0.55">γ</tspan><tspan font-size="3.19" dy="-2.48" style="stroke-width:0.06px">fl/fl</tspan><tspan dy="1.92"> x Zbtb</tspan><tspan font-size="3.19" dy="-2.20" style="stroke-width:0.06px">Cre+</tspan></text>
<text transform="translate(416.30,135.00) rotate(-37)" font-size="5.5" text-anchor="end" fill="#1a1a1a">FcR<tspan font-size="3.63" dy="0.55">γ</tspan><tspan font-size="3.19" dy="-2.48" style="stroke-width:0.06px">fl/fl</tspan><tspan dy="1.92"> x CD11c</tspan><tspan font-size="3.19" dy="-2.20" style="stroke-width:0.06px">Cre+</tspan></text>
<path d="M44.4,437.0 V516.4 H154.6" fill="none" stroke="#000" stroke-width="1.2"/>
<path d="M41.5,516.40 H44.4" stroke="#000" stroke-width="1.0"/>
<text x="38.20" y="518.20" font-size="5.1" text-anchor="end" fill="#1a1a1a" style="stroke-width:0.04px">0</text>
<path d="M41.5,497.15 H44.4" stroke="#000" stroke-width="1.0"/>
<text x="38.20" y="498.95" font-size="5.1" text-anchor="end" fill="#1a1a1a" style="stroke-width:0.04px">50</text>
<path d="M41.5,477.90 H44.4" stroke="#000" stroke-width="1.0"/>
<text x="38.20" y="479.70" font-size="5.1" text-anchor="end" fill="#1a1a1a" style="stroke-width:0.04px">100</text>
<path d="M41.5,458.65 H44.4" stroke="#000" stroke-width="1.0"/>
<text x="38.20" y="460.45" font-size="5.1" text-anchor="end" fill="#1a1a1a" style="stroke-width:0.04px">150</text>
<path d="M41.5,439.40 H44.4" stroke="#000" stroke-width="1.0"/>
<text x="38.20" y="441.20" font-size="5.1" text-anchor="end" fill="#1a1a1a" style="stroke-width:0.04px">200</text>
<path d="M60.30,516.4 V519.3" stroke="#000" stroke-width="1.0"/>
<text x="60.30" y="527.20" font-size="5.3" text-anchor="middle" fill="#1a1a1a" style="stroke-width:0.04px">Day 1</text>
<path d="M81.20,516.4 V519.3" stroke="#000" stroke-width="1.0"/>
<text x="81.20" y="527.20" font-size="5.3" text-anchor="middle" fill="#1a1a1a" style="stroke-width:0.04px">Day 2</text>
<path d="M102.10,516.4 V519.3" stroke="#000" stroke-width="1.0"/>
<text x="102.10" y="527.20" font-size="5.3" text-anchor="middle" fill="#1a1a1a" style="stroke-width:0.04px">Day 7</text>
<path d="M123.00,516.4 V519.3" stroke="#000" stroke-width="1.0"/>
<text x="123.00" y="527.20" font-size="5.3" text-anchor="middle" fill="#1a1a1a" style="stroke-width:0.04px">Day 14</text>
<path d="M143.90,516.4 V519.3" stroke="#000" stroke-width="1.0"/>
<text x="143.90" y="527.20" font-size="5.3" text-anchor="middle" fill="#1a1a1a" style="stroke-width:0.04px">Day 21</text>
<text x="99.60" y="432.60" font-size="7.4" text-anchor="middle" fill="#1a1a1a">anti-HOD mAb IgG2c</text>
<path d="M60.30,475.97 V479.05 M59.20,475.97 h2.2 M59.20,479.05 h2.2" stroke="#c8c8c8" stroke-width="0.7"/>
<path d="M81.20,476.94 V480.02 M80.10,476.94 h2.2 M80.10,480.02 h2.2" stroke="#c8c8c8" stroke-width="0.7"/>
<path d="M102.10,477.32 V479.63 M101.00,477.32 h2.2 M101.00,479.63 h2.2" stroke="#c8c8c8" stroke-width="0.7"/>
<path d="M123.00,476.75 V479.82 M121.90,476.75 h2.2 M121.90,479.82 h2.2" stroke="#c8c8c8" stroke-width="0.7"/>
<path d="M143.90,477.13 V480.21 M142.80,477.13 h2.2 M142.80,480.21 h2.2" stroke="#c8c8c8" stroke-width="0.7"/>
<path d="M60.30,474.82 V477.90 M59.20,474.82 h2.2 M59.20,477.90 h2.2" stroke="#c8345a" stroke-width="0.7"/>
<path d="M81.20,476.17 V480.79 M80.10,476.17 h2.2 M80.10,480.79 h2.2" stroke="#c8345a" stroke-width="0.7"/>
<path d="M102.10,474.82 V477.90 M101.00,474.82 h2.2 M101.00,477.90 h2.2" stroke="#c8345a" stroke-width="0.7"/>
<path d="M123.00,472.12 V476.75 M121.90,472.12 h2.2 M121.90,476.75 h2.2" stroke="#c8345a" stroke-width="0.7"/>
<path d="M143.90,477.51 V480.59 M142.80,477.51 h2.2 M142.80,480.59 h2.2" stroke="#c8345a" stroke-width="0.7"/>
<path d="M60.30,467.50 V470.58 M59.20,467.50 h2.2 M59.20,470.58 h2.2" stroke="#f0a030" stroke-width="0.7"/>
<path d="M81.20,462.88 V467.50 M80.10,462.88 h2.2 M80.10,467.50 h2.2" stroke="#f0a030" stroke-width="0.7"/>
<path d="M102.10,456.72 V459.03 M101.00,456.72 h2.2 M101.00,459.03 h2.2" stroke="#f0a030" stroke-width="0.7"/>
<path d="M123.00,457.50 V461.34 M121.90,457.50 h2.2 M121.90,461.34 h2.2" stroke="#f0a030" stroke-width="0.7"/>
<path d="M143.90,451.72 V455.57 M142.80,451.72 h2.2 M142.80,455.57 h2.2" stroke="#f0a030" stroke-width="0.7"/>
<path d="M60.30,471.74 V474.82 M59.20,471.74 h2.2 M59.20,474.82 h2.2" stroke="#5aae34" stroke-width="0.7"/>
<path d="M81.20,462.88 V465.96 M80.10,462.88 h2.2 M80.10,465.96 h2.2" stroke="#5aae34" stroke-width="0.7"/>
<path d="M102.10,470.97 V474.82 M101.00,470.97 h2.2 M101.00,474.82 h2.2" stroke="#5aae34" stroke-width="0.7"/>
<path d="M123.00,470.97 V474.82 M121.90,470.97 h2.2 M121.90,474.82 h2.2" stroke="#5aae34" stroke-width="0.7"/>
<path d="M143.90,467.89 V472.51 M142.80,467.89 h2.2 M142.80,472.51 h2.2" stroke="#5aae34" stroke-width="0.7"/>
<path d="M60.30,471.74 V474.82 M59.20,471.74 h2.2 M59.20,474.82 h2.2" stroke="#6a3a8a" stroke-width="0.7"/>
<path d="M81.20,462.88 V465.96 M80.10,462.88 h2.2 M80.10,465.96 h2.2" stroke="#6a3a8a" stroke-width="0.7"/>
<path d="M102.10,477.32 V484.25 M101.00,477.32 h2.2 M101.00,484.25 h2.2" stroke="#6a3a8a" stroke-width="0.7"/>
<path d="M123.00,479.05 V482.90 M121.90,479.05 h2.2 M121.90,482.90 h2.2" stroke="#6a3a8a" stroke-width="0.7"/>
<path d="M143.90,476.55 V480.40 M142.80,476.55 h2.2 M142.80,480.40 h2.2" stroke="#6a3a8a" stroke-width="0.7"/>
<path d="M60.30,466.35 V468.66 M59.20,466.35 h2.2 M59.20,468.66 h2.2" stroke="#4a6aac" stroke-width="0.7"/>
<path d="M81.20,461.34 V463.65 M80.10,461.34 h2.2 M80.10,463.65 h2.2" stroke="#4a6aac" stroke-width="0.7"/>
<path d="M102.10,461.34 V465.96 M101.00,461.34 h2.2 M101.00,465.96 h2.2" stroke="#4a6aac" stroke-width="0.7"/>
<path d="M123.00,461.34 V465.96 M121.90,461.34 h2.2 M121.90,465.96 h2.2" stroke="#4a6aac" stroke-width="0.7"/>
<path d="M143.90,458.65 V464.81 M142.80,458.65 h2.2 M142.80,464.81 h2.2" stroke="#4a6aac" stroke-width="0.7"/>
<polyline points="60.30,477.51 81.20,478.48 102.10,478.48 123.00,478.28 143.90,478.67" fill="none" stroke="#c8c8c8" stroke-width="1.2"/>
<polyline points="60.30,476.36 81.20,478.48 102.10,476.36 123.00,474.43 143.90,479.05" fill="none" stroke="#c8345a" stroke-width="1.2"/>
<polyline points="60.30,469.04 81.20,465.19 102.10,457.88 123.00,459.42 143.90,453.64" fill="none" stroke="#f0a030" stroke-width="1.2"/>
<polyline points="60.30,473.28 81.20,464.42 102.10,472.89 123.00,472.89 143.90,470.20" fill="none" stroke="#5aae34" stroke-width="1.2"/>
<polyline points="60.30,473.28 81.20,464.42 102.10,480.79 123.00,480.98 143.90,478.48" fill="none" stroke="#6a3a8a" stroke-width="1.2"/>
<polyline points="60.30,467.50 81.20,462.50 102.10,463.65 123.00,463.65 143.90,461.73" fill="none" stroke="#4a6aac" stroke-width="1.2"/>
<circle cx="60.30" cy="476.36" r="1.20" fill="#6a0a1a" stroke="#111" stroke-width="0.4"/>
<circle cx="81.20" cy="478.48" r="1.20" fill="#6a0a1a" stroke="#111" stroke-width="0.4"/>
<circle cx="102.10" cy="476.36" r="1.20" fill="#6a0a1a" stroke="#111" stroke-width="0.4"/>
<circle cx="123.00" cy="474.43" r="1.20" fill="#6a0a1a" stroke="#111" stroke-width="0.4"/>
<circle cx="143.90" cy="479.05" r="1.20" fill="#6a0a1a" stroke="#111" stroke-width="0.4"/>
<path d="M60.30,467.60 L61.74,469.04 L60.30,470.48 L58.86,469.04Z" fill="#5a3a10" stroke="#111" stroke-width="0.4"/>
<path d="M81.20,463.75 L82.64,465.19 L81.20,466.63 L79.76,465.19Z" fill="#5a3a10" stroke="#111" stroke-width="0.4"/>
<path d="M102.10,456.44 L103.54,457.88 L102.10,459.32 L100.66,457.88Z" fill="#5a3a10" stroke="#111" stroke-width="0.4"/>
<path d="M123.00,457.98 L124.44,459.42 L123.00,460.86 L121.56,459.42Z" fill="#5a3a10" stroke="#111" stroke-width="0.4"/>
<path d="M143.90,452.20 L145.34,453.64 L143.90,455.08 L142.46,453.64Z" fill="#5a3a10" stroke="#111" stroke-width="0.4"/>
<path d="M60.30,471.96 L61.62,474.24 L58.98,474.24Z" fill="#1a3a0a" stroke="#111" stroke-width="0.4"/>
<path d="M81.20,463.10 L82.52,465.38 L79.88,465.38Z" fill="#1a3a0a" stroke="#111" stroke-width="0.4"/>
<path d="M102.10,471.57 L103.42,473.85 L100.78,473.85Z" fill="#1a3a0a" stroke="#111" stroke-width="0.4"/>
<path d="M123.00,471.57 L124.32,473.85 L121.68,473.85Z" fill="#1a3a0a" stroke="#111" stroke-width="0.4"/>
<path d="M143.90,468.88 L145.22,471.16 L142.58,471.16Z" fill="#1a3a0a" stroke="#111" stroke-width="0.4"/>
<path d="M60.30,471.84 L61.74,473.28 L60.30,474.72 L58.86,473.28Z" fill="#2a0a3a" stroke="#111" stroke-width="0.4"/>
<path d="M81.20,462.98 L82.64,464.42 L81.20,465.86 L79.76,464.42Z" fill="#2a0a3a" stroke="#111" stroke-width="0.4"/>
<path d="M102.10,479.35 L103.54,480.79 L102.10,482.23 L100.66,480.79Z" fill="#2a0a3a" stroke="#111" stroke-width="0.4"/>
<path d="M123.00,479.54 L124.44,480.98 L123.00,482.42 L121.56,480.98Z" fill="#2a0a3a" stroke="#111" stroke-width="0.4"/>
<path d="M143.90,477.04 L145.34,478.48 L143.90,479.92 L142.46,478.48Z" fill="#2a0a3a" stroke="#111" stroke-width="0.4"/>
<path d="M60.30,468.82 L61.62,466.55 L58.98,466.55Z" fill="#0a1a4a" stroke="#111" stroke-width="0.4"/>
<path d="M81.20,463.82 L82.52,461.54 L79.88,461.54Z" fill="#0a1a4a" stroke="#111" stroke-width="0.4"/>
<path d="M102.10,464.97 L103.42,462.69 L100.78,462.69Z" fill="#0a1a4a" stroke="#111" stroke-width="0.4"/>
<path d="M123.00,464.97 L124.32,462.69 L121.68,462.69Z" fill="#0a1a4a" stroke="#111" stroke-width="0.4"/>
<path d="M143.90,463.05 L145.22,460.77 L142.58,460.77Z" fill="#0a1a4a" stroke="#111" stroke-width="0.4"/>
<circle cx="60.30" cy="477.51" r="1.20" fill="#fff" stroke="#222" stroke-width="0.8"/>
<circle cx="81.20" cy="478.48" r="1.20" fill="#fff" stroke="#222" stroke-width="0.8"/>
<circle cx="102.10" cy="478.48" r="1.20" fill="#fff" stroke="#222" stroke-width="0.8"/>
<circle cx="123.00" cy="478.28" r="1.20" fill="#fff" stroke="#222" stroke-width="0.8"/>
<circle cx="143.90" cy="478.67" r="1.20" fill="#fff" stroke="#222" stroke-width="0.8"/>
<path d="M165.3,437.0 V516.4 H275.5" fill="none" stroke="#000" stroke-width="1.2"/>
<path d="M162.4,516.40 H165.3" stroke="#000" stroke-width="1.0"/>
<path d="M162.4,497.15 H165.3" stroke="#000" stroke-width="1.0"/>
<path d="M162.4,477.90 H165.3" stroke="#000" stroke-width="1.0"/>
<path d="M162.4,458.65 H165.3" stroke="#000" stroke-width="1.0"/>
<path d="M162.4,439.40 H165.3" stroke="#000" stroke-width="1.0"/>
<path d="M181.20,516.4 V519.3" stroke="#000" stroke-width="1.0"/>
<text x="181.20" y="527.20" font-size="5.3" text-anchor="middle" fill="#1a1a1a" style="stroke-width:0.04px">Day 1</text>
<path d="M202.10,516.4 V519.3" stroke="#000" stroke-width="1.0"/>
<text x="202.10" y="527.20" font-size="5.3" text-anchor="middle" fill="#1a1a1a" style="stroke-width:0.04px">Day 2</text>
<path d="M223.00,516.4 V519.3" stroke="#000" stroke-width="1.0"/>
<text x="223.00" y="527.20" font-size="5.3" text-anchor="middle" fill="#1a1a1a" style="stroke-width:0.04px">Day 7</text>
<path d="M243.90,516.4 V519.3" stroke="#000" stroke-width="1.0"/>
<text x="243.90" y="527.20" font-size="5.3" text-anchor="middle" fill="#1a1a1a" style="stroke-width:0.04px">Day 14</text>
<path d="M264.80,516.4 V519.3" stroke="#000" stroke-width="1.0"/>
<text x="264.80" y="527.20" font-size="5.3" text-anchor="middle" fill="#1a1a1a" style="stroke-width:0.04px">Day 21</text>
<text x="220.50" y="432.60" font-size="7.4" text-anchor="middle" fill="#1a1a1a">anti-K mAb IgG2c</text>
<path d="M181.20,477.51 V479.05 M180.10,477.51 h2.2 M180.10,479.05 h2.2" stroke="#c8c8c8" stroke-width="0.7"/>
<path d="M202.10,477.51 V479.05 M201.00,477.51 h2.2 M201.00,479.05 h2.2" stroke="#c8c8c8" stroke-width="0.7"/>
<path d="M223.00,477.13 V478.67 M221.90,477.13 h2.2 M221.90,478.67 h2.2" stroke="#c8c8c8" stroke-width="0.7"/>
<path d="M243.90,475.97 V477.51 M242.80,475.97 h2.2 M242.80,477.51 h2.2" stroke="#c8c8c8" stroke-width="0.7"/>
<path d="M264.80,477.13 V478.67 M263.70,477.13 h2.2 M263.70,478.67 h2.2" stroke="#c8c8c8" stroke-width="0.7"/>
<path d="M181.20,477.13 V478.67 M180.10,477.13 h2.2 M180.10,478.67 h2.2" stroke="#c8345a" stroke-width="0.7"/>
<path d="M202.10,477.13 V478.67 M201.00,477.13 h2.2 M201.00,478.67 h2.2" stroke="#c8345a" stroke-width="0.7"/>
<path d="M223.00,475.97 V477.51 M221.90,475.97 h2.2 M221.90,477.51 h2.2" stroke="#c8345a" stroke-width="0.7"/>
<path d="M243.90,475.59 V477.13 M242.80,475.59 h2.2 M242.80,477.13 h2.2" stroke="#c8345a" stroke-width="0.7"/>
<path d="M264.80,475.97 V477.51 M263.70,475.97 h2.2 M263.70,477.51 h2.2" stroke="#c8345a" stroke-width="0.7"/>
<path d="M181.20,477.13 V478.67 M180.10,477.13 h2.2 M180.10,478.67 h2.2" stroke="#f0a030" stroke-width="0.7"/>
<path d="M202.10,477.90 V479.44 M201.00,477.90 h2.2 M201.00,479.44 h2.2" stroke="#f0a030" stroke-width="0.7"/>
<path d="M223.00,476.75 V478.28 M221.90,476.75 h2.2 M221.90,478.28 h2.2" stroke="#f0a030" stroke-width="0.7"/>
<path d="M243.90,475.97 V477.51 M242.80,475.97 h2.2 M242.80,477.51 h2.2" stroke="#f0a030" stroke-width="0.7"/>
<path d="M264.80,476.75 V479.05 M263.70,476.75 h2.2 M263.70,479.05 h2.2" stroke="#f0a030" stroke-width="0.7"/>
<path d="M181.20,477.51 V479.05 M180.10,477.51 h2.2 M180.10,479.05 h2.2" stroke="#5aae34" stroke-width="0.7"/>
<path d="M202.10,478.28 V479.82 M201.00,478.28 h2.2 M201.00,479.82 h2.2" stroke="#5aae34" stroke-width="0.7"/>
<path d="M223.00,476.75 V478.28 M221.90,476.75 h2.2 M221.90,478.28 h2.2" stroke="#5aae34" stroke-width="0.7"/>
<path d="M243.90,476.36 V477.90 M242.80,476.36 h2.2 M242.80,477.90 h2.2" stroke="#5aae34" stroke-width="0.7"/>
<path d="M264.80,477.13 V478.67 M263.70,477.13 h2.2 M263.70,478.67 h2.2" stroke="#5aae34" stroke-width="0.7"/>
<path d="M181.20,477.13 V478.67 M180.10,477.13 h2.2 M180.10,478.67 h2.2" stroke="#6a3a8a" stroke-width="0.7"/>
<path d="M202.10,476.75 V478.28 M201.00,476.75 h2.2 M201.00,478.28 h2.2" stroke="#6a3a8a" stroke-width="0.7"/>
<path d="M223.00,475.59 V477.13 M221.90,475.59 h2.2 M221.90,477.13 h2.2" stroke="#6a3a8a" stroke-width="0.7"/>
<path d="M243.90,475.20 V476.75 M242.80,475.20 h2.2 M242.80,476.75 h2.2" stroke="#6a3a8a" stroke-width="0.7"/>
<path d="M264.80,475.59 V477.13 M263.70,475.59 h2.2 M263.70,477.13 h2.2" stroke="#6a3a8a" stroke-width="0.7"/>
<path d="M181.20,476.36 V478.67 M180.10,476.36 h2.2 M180.10,478.67 h2.2" stroke="#4a6aac" stroke-width="0.7"/>
<path d="M202.10,476.75 V478.28 M201.00,476.75 h2.2 M201.00,478.28 h2.2" stroke="#4a6aac" stroke-width="0.7"/>
<path d="M223.00,470.97 V481.75 M221.90,470.97 h2.2 M221.90,481.75 h2.2" stroke="#4a6aac" stroke-width="0.7"/>
<path d="M243.90,474.43 V476.75 M242.80,474.43 h2.2 M242.80,476.75 h2.2" stroke="#4a6aac" stroke-width="0.7"/>
<path d="M264.80,471.35 V480.59 M263.70,471.35 h2.2 M263.70,480.59 h2.2" stroke="#4a6aac" stroke-width="0.7"/>
<polyline points="181.20,478.28 202.10,478.28 223.00,477.90 243.90,476.75 264.80,477.90" fill="none" stroke="#c8c8c8" stroke-width="1.2"/>
<polyline points="181.20,477.90 202.10,477.90 223.00,476.75 243.90,476.36 264.80,476.75" fill="none" stroke="#c8345a" stroke-width="1.2"/>
<polyline points="181.20,477.90 202.10,478.67 223.00,477.51 243.90,476.75 264.80,477.90" fill="none" stroke="#f0a030" stroke-width="1.2"/>
<polyline points="181.20,478.28 202.10,479.05 223.00,477.51 243.90,477.13 264.80,477.90" fill="none" stroke="#5aae34" stroke-width="1.2"/>
<polyline points="181.20,477.90 202.10,477.51 223.00,476.36 243.90,475.97 264.80,476.36" fill="none" stroke="#6a3a8a" stroke-width="1.2"/>
<polyline points="181.20,477.51 202.10,477.51 223.00,476.36 243.90,475.59 264.80,475.97" fill="none" stroke="#4a6aac" stroke-width="1.2"/>
<circle cx="181.20" cy="477.90" r="1.20" fill="#6a0a1a" stroke="#111" stroke-width="0.4"/>
<circle cx="202.10" cy="477.90" r="1.20" fill="#6a0a1a" stroke="#111" stroke-width="0.4"/>
<circle cx="223.00" cy="476.75" r="1.20" fill="#6a0a1a" stroke="#111" stroke-width="0.4"/>
<circle cx="243.90" cy="476.36" r="1.20" fill="#6a0a1a" stroke="#111" stroke-width="0.4"/>
<circle cx="264.80" cy="476.75" r="1.20" fill="#6a0a1a" stroke="#111" stroke-width="0.4"/>
<path d="M181.20,476.46 L182.64,477.90 L181.20,479.34 L179.76,477.90Z" fill="#5a3a10" stroke="#111" stroke-width="0.4"/>
<path d="M202.10,477.23 L203.54,478.67 L202.10,480.11 L200.66,478.67Z" fill="#5a3a10" stroke="#111" stroke-width="0.4"/>
<path d="M223.00,476.07 L224.44,477.51 L223.00,478.95 L221.56,477.51Z" fill="#5a3a10" stroke="#111" stroke-width="0.4"/>
<path d="M243.90,475.31 L245.34,476.75 L243.90,478.19 L242.46,476.75Z" fill="#5a3a10" stroke="#111" stroke-width="0.4"/>
<path d="M264.80,476.46 L266.24,477.90 L264.80,479.34 L263.36,477.90Z" fill="#5a3a10" stroke="#111" stroke-width="0.4"/>
<path d="M181.20,476.96 L182.52,479.24 L179.88,479.24Z" fill="#1a3a0a" stroke="#111" stroke-width="0.4"/>
<path d="M202.10,477.73 L203.42,480.01 L200.78,480.01Z" fill="#1a3a0a" stroke="#111" stroke-width="0.4"/>
<path d="M223.00,476.19 L224.32,478.47 L221.68,478.47Z" fill="#1a3a0a" stroke="#111" stroke-width="0.4"/>
<path d="M243.90,475.81 L245.22,478.09 L242.58,478.09Z" fill="#1a3a0a" stroke="#111" stroke-width="0.4"/>
<path d="M264.80,476.58 L266.12,478.86 L263.48,478.86Z" fill="#1a3a0a" stroke="#111" stroke-width="0.4"/>
<path d="M181.20,476.46 L182.64,477.90 L181.20,479.34 L179.76,477.90Z" fill="#2a0a3a" stroke="#111" stroke-width="0.4"/>
<path d="M202.10,476.07 L203.54,477.51 L202.10,478.95 L200.66,477.51Z" fill="#2a0a3a" stroke="#111" stroke-width="0.4"/>
<path d="M223.00,474.92 L224.44,476.36 L223.00,477.80 L221.56,476.36Z" fill="#2a0a3a" stroke="#111" stroke-width="0.4"/>
<path d="M243.90,474.53 L245.34,475.97 L243.90,477.41 L242.46,475.97Z" fill="#2a0a3a" stroke="#111" stroke-width="0.4"/>
<path d="M264.80,474.92 L266.24,476.36 L264.80,477.80 L263.36,476.36Z" fill="#2a0a3a" stroke="#111" stroke-width="0.4"/>
<path d="M181.20,478.83 L182.52,476.56 L179.88,476.56Z" fill="#0a1a4a" stroke="#111" stroke-width="0.4"/>
<path d="M202.10,478.83 L203.42,476.56 L200.78,476.56Z" fill="#0a1a4a" stroke="#111" stroke-width="0.4"/>
<path d="M223.00,477.68 L224.32,475.40 L221.68,475.40Z" fill="#0a1a4a" stroke="#111" stroke-width="0.4"/>
<path d="M243.90,476.91 L245.22,474.63 L242.58,474.63Z" fill="#0a1a4a" stroke="#111" stroke-width="0.4"/>
<path d="M264.80,477.29 L266.12,475.01 L263.48,475.01Z" fill="#0a1a4a" stroke="#111" stroke-width="0.4"/>
<circle cx="181.20" cy="478.28" r="1.20" fill="#fff" stroke="#222" stroke-width="0.8"/>
<circle cx="202.10" cy="478.28" r="1.20" fill="#fff" stroke="#222" stroke-width="0.8"/>
<circle cx="223.00" cy="477.90" r="1.20" fill="#fff" stroke="#222" stroke-width="0.8"/>
<circle cx="243.90" cy="476.75" r="1.20" fill="#fff" stroke="#222" stroke-width="0.8"/>
<circle cx="264.80" cy="477.90" r="1.20" fill="#fff" stroke="#222" stroke-width="0.8"/>
<path d="M286.25,437.0 V516.4 H396.45" fill="none" stroke="#000" stroke-width="1.2"/>
<path d="M283.35,516.40 H286.25" stroke="#000" stroke-width="1.0"/>
<path d="M283.35,497.15 H286.25" stroke="#000" stroke-width="1.0"/>
<path d="M283.35,477.90 H286.25" stroke="#000" stroke-width="1.0"/>
<path d="M283.35,458.65 H286.25" stroke="#000" stroke-width="1.0"/>
<path d="M283.35,439.40 H286.25" stroke="#000" stroke-width="1.0"/>
<path d="M302.15,516.4 V519.3" stroke="#000" stroke-width="1.0"/>
<text x="302.15" y="527.20" font-size="5.3" text-anchor="middle" fill="#1a1a1a" style="stroke-width:0.04px">Day 1</text>
<path d="M323.05,516.4 V519.3" stroke="#000" stroke-width="1.0"/>
<text x="323.05" y="527.20" font-size="5.3" text-anchor="middle" fill="#1a1a1a" style="stroke-width:0.04px">Day 2</text>
<path d="M343.95,516.4 V519.3" stroke="#000" stroke-width="1.0"/>
<text x="343.95" y="527.20" font-size="5.3" text-anchor="middle" fill="#1a1a1a" style="stroke-width:0.04px">Day 7</text>
<path d="M364.85,516.4 V519.3" stroke="#000" stroke-width="1.0"/>
<text x="364.85" y="527.20" font-size="5.3" text-anchor="middle" fill="#1a1a1a" style="stroke-width:0.04px">Day 14</text>
<path d="M385.75,516.4 V519.3" stroke="#000" stroke-width="1.0"/>
<text x="385.75" y="527.20" font-size="5.3" text-anchor="middle" fill="#1a1a1a" style="stroke-width:0.04px">Day 21</text>
<text x="341.45" y="432.60" font-size="7.4" text-anchor="middle" fill="#1a1a1a">PBS</text>
<path d="M302.15,477.51 V479.05 M301.05,477.51 h2.2 M301.05,479.05 h2.2" stroke="#c8c8c8" stroke-width="0.7"/>
<path d="M323.05,476.75 V478.28 M321.95,476.75 h2.2 M321.95,478.28 h2.2" stroke="#c8c8c8" stroke-width="0.7"/>
<path d="M343.95,477.13 V478.67 M342.85,477.13 h2.2 M342.85,478.67 h2.2" stroke="#c8c8c8" stroke-width="0.7"/>
<path d="M364.85,476.75 V478.28 M363.75,476.75 h2.2 M363.75,478.28 h2.2" stroke="#c8c8c8" stroke-width="0.7"/>
<path d="M385.75,476.75 V478.28 M384.65,476.75 h2.2 M384.65,478.28 h2.2" stroke="#c8c8c8" stroke-width="0.7"/>
<path d="M302.15,476.75 V478.28 M301.05,476.75 h2.2 M301.05,478.28 h2.2" stroke="#c8345a" stroke-width="0.7"/>
<path d="M323.05,476.36 V477.90 M321.95,476.36 h2.2 M321.95,477.90 h2.2" stroke="#c8345a" stroke-width="0.7"/>
<path d="M343.95,477.13 V478.67 M342.85,477.13 h2.2 M342.85,478.67 h2.2" stroke="#c8345a" stroke-width="0.7"/>
<path d="M364.85,476.36 V477.90 M363.75,476.36 h2.2 M363.75,477.90 h2.2" stroke="#c8345a" stroke-width="0.7"/>
<path d="M385.75,474.43 V475.97 M384.65,474.43 h2.2 M384.65,475.97 h2.2" stroke="#c8345a" stroke-width="0.7"/>
<path d="M302.15,477.13 V478.67 M301.05,477.13 h2.2 M301.05,478.67 h2.2" stroke="#f0a030" stroke-width="0.7"/>
<path d="M323.05,477.13 V478.67 M321.95,477.13 h2.2 M321.95,478.67 h2.2" stroke="#f0a030" stroke-width="0.7"/>
<path d="M343.95,477.13 V478.67 M342.85,477.13 h2.2 M342.85,478.67 h2.2" stroke="#f0a030" stroke-width="0.7"/>
<path d="M364.85,476.75 V478.28 M363.75,476.75 h2.2 M363.75,478.28 h2.2" stroke="#f0a030" stroke-width="0.7"/>
<path d="M385.75,475.20 V477.51 M384.65,475.20 h2.2 M384.65,477.51 h2.2" stroke="#f0a030" stroke-width="0.7"/>
<path d="M302.15,477.51 V479.05 M301.05,477.51 h2.2 M301.05,479.05 h2.2" stroke="#5aae34" stroke-width="0.7"/>
<path d="M323.05,477.51 V479.05 M321.95,477.51 h2.2 M321.95,479.05 h2.2" stroke="#5aae34" stroke-width="0.7"/>
<path d="M343.95,476.75 V478.28 M342.85,476.75 h2.2 M342.85,478.28 h2.2" stroke="#5aae34" stroke-width="0.7"/>
<path d="M364.85,476.75 V478.28 M363.75,476.75 h2.2 M363.75,478.28 h2.2" stroke="#5aae34" stroke-width="0.7"/>
<path d="M385.75,475.97 V477.51 M384.65,475.97 h2.2 M384.65,477.51 h2.2" stroke="#5aae34" stroke-width="0.7"/>
<path d="M302.15,477.13 V478.67 M301.05,477.13 h2.2 M301.05,478.67 h2.2" stroke="#6a3a8a" stroke-width="0.7"/>
<path d="M323.05,475.59 V477.13 M321.95,475.59 h2.2 M321.95,477.13 h2.2" stroke="#6a3a8a" stroke-width="0.7"/>
<path d="M343.95,477.13 V478.67 M342.85,477.13 h2.2 M342.85,478.67 h2.2" stroke="#6a3a8a" stroke-width="0.7"/>
<path d="M364.85,476.36 V477.90 M363.75,476.36 h2.2 M363.75,477.90 h2.2" stroke="#6a3a8a" stroke-width="0.7"/>
<path d="M385.75,472.89 V475.20 M384.65,472.89 h2.2 M384.65,475.20 h2.2" stroke="#6a3a8a" stroke-width="0.7"/>
<path d="M302.15,477.51 V479.05 M301.05,477.51 h2.2 M301.05,479.05 h2.2" stroke="#4a6aac" stroke-width="0.7"/>
<path d="M323.05,475.97 V477.51 M321.95,475.97 h2.2 M321.95,477.51 h2.2" stroke="#4a6aac" stroke-width="0.7"/>
<path d="M343.95,477.13 V478.67 M342.85,477.13 h2.2 M342.85,478.67 h2.2" stroke="#4a6aac" stroke-width="0.7"/>
<path d="M364.85,476.36 V477.90 M363.75,476.36 h2.2 M363.75,477.90 h2.2" stroke="#4a6aac" stroke-width="0.7"/>
<path d="M385.75,473.66 V475.97 M384.65,473.66 h2.2 M384.65,475.97 h2.2" stroke="#4a6aac" stroke-width="0.7"/>
<polyline points="302.15,478.28 323.05,477.51 343.95,477.90 364.85,477.51 385.75,477.51" fill="none" stroke="#c8c8c8" stroke-width="1.2"/>
<polyline points="302.15,477.51 323.05,477.13 343.95,477.90 364.85,477.13 385.75,475.20" fill="none" stroke="#c8345a" stroke-width="1.2"/>
<polyline points="302.15,477.90 323.05,477.90 343.95,477.90 364.85,477.51 385.75,476.36" fill="none" stroke="#f0a030" stroke-width="1.2"/>
<polyline points="302.15,478.28 323.05,478.28 343.95,477.51 364.85,477.51 385.75,476.75" fill="none" stroke="#5aae34" stroke-width="1.2"/>
<polyline points="302.15,477.90 323.05,476.36 343.95,477.90 364.85,477.13 385.75,474.05" fill="none" stroke="#6a3a8a" stroke-width="1.2"/>
<polyline points="302.15,478.28 323.05,476.75 343.95,477.90 364.85,477.13 385.75,474.82" fill="none" stroke="#4a6aac" stroke-width="1.2"/>
<circle cx="302.15" cy="477.51" r="1.20" fill="#6a0a1a" stroke="#111" stroke-width="0.4"/>
<circle cx="323.05" cy="477.13" r="1.20" fill="#6a0a1a" stroke="#111" stroke-width="0.4"/>
<circle cx="343.95" cy="477.90" r="1.20" fill="#6a0a1a" stroke="#111" stroke-width="0.4"/>
<circle cx="364.85" cy="477.13" r="1.20" fill="#6a0a1a" stroke="#111" stroke-width="0.4"/>
<circle cx="385.75" cy="475.20" r="1.20" fill="#6a0a1a" stroke="#111" stroke-width="0.4"/>
<path d="M302.15,476.46 L303.59,477.90 L302.15,479.34 L300.71,477.90Z" fill="#5a3a10" stroke="#111" stroke-width="0.4"/>
<path d="M323.05,476.46 L324.49,477.90 L323.05,479.34 L321.61,477.90Z" fill="#5a3a10" stroke="#111" stroke-width="0.4"/>
<path d="M343.95,476.46 L345.39,477.90 L343.95,479.34 L342.51,477.90Z" fill="#5a3a10" stroke="#111" stroke-width="0.4"/>
<path d="M364.85,476.07 L366.29,477.51 L364.85,478.95 L363.41,477.51Z" fill="#5a3a10" stroke="#111" stroke-width="0.4"/>
<path d="M385.75,474.92 L387.19,476.36 L385.75,477.80 L384.31,476.36Z" fill="#5a3a10" stroke="#111" stroke-width="0.4"/>
<path d="M302.15,476.96 L303.47,479.24 L300.83,479.24Z" fill="#1a3a0a" stroke="#111" stroke-width="0.4"/>
<path d="M323.05,476.96 L324.37,479.24 L321.73,479.24Z" fill="#1a3a0a" stroke="#111" stroke-width="0.4"/>
<path d="M343.95,476.19 L345.27,478.47 L342.63,478.47Z" fill="#1a3a0a" stroke="#111" stroke-width="0.4"/>
<path d="M364.85,476.19 L366.17,478.47 L363.53,478.47Z" fill="#1a3a0a" stroke="#111" stroke-width="0.4"/>
<path d="M385.75,475.43 L387.07,477.70 L384.43,477.70Z" fill="#1a3a0a" stroke="#111" stroke-width="0.4"/>
<path d="M302.15,476.46 L303.59,477.90 L302.15,479.34 L300.71,477.90Z" fill="#2a0a3a" stroke="#111" stroke-width="0.4"/>
<path d="M323.05,474.92 L324.49,476.36 L323.05,477.80 L321.61,476.36Z" fill="#2a0a3a" stroke="#111" stroke-width="0.4"/>
<path d="M343.95,476.46 L345.39,477.90 L343.95,479.34 L342.51,477.90Z" fill="#2a0a3a" stroke="#111" stroke-width="0.4"/>
<path d="M364.85,475.69 L366.29,477.13 L364.85,478.57 L363.41,477.13Z" fill="#2a0a3a" stroke="#111" stroke-width="0.4"/>
<path d="M385.75,472.61 L387.19,474.05 L385.75,475.49 L384.31,474.05Z" fill="#2a0a3a" stroke="#111" stroke-width="0.4"/>
<path d="M302.15,479.60 L303.47,477.32 L300.83,477.32Z" fill="#0a1a4a" stroke="#111" stroke-width="0.4"/>
<path d="M323.05,478.06 L324.37,475.79 L321.73,475.79Z" fill="#0a1a4a" stroke="#111" stroke-width="0.4"/>
<path d="M343.95,479.22 L345.27,476.94 L342.63,476.94Z" fill="#0a1a4a" stroke="#111" stroke-width="0.4"/>
<path d="M364.85,478.45 L366.17,476.17 L363.53,476.17Z" fill="#0a1a4a" stroke="#111" stroke-width="0.4"/>
<path d="M385.75,476.14 L387.07,473.86 L384.43,473.86Z" fill="#0a1a4a" stroke="#111" stroke-width="0.4"/>
<circle cx="302.15" cy="478.28" r="1.20" fill="#fff" stroke="#222" stroke-width="0.8"/>
<circle cx="323.05" cy="477.51" r="1.20" fill="#fff" stroke="#222" stroke-width="0.8"/>
<circle cx="343.95" cy="477.90" r="1.20" fill="#fff" stroke="#222" stroke-width="0.8"/>
<circle cx="364.85" cy="477.51" r="1.20" fill="#fff" stroke="#222" stroke-width="0.8"/>
<circle cx="385.75" cy="477.51" r="1.20" fill="#fff" stroke="#222" stroke-width="0.8"/>
<text x="0.00" y="0.00" font-size="6.2" text-anchor="middle" font-weight="bold" fill="#1a1a1a" transform="translate(23.60,476.70) rotate(-90)" textLength="54.8" lengthAdjust="spacingAndGlyphs">% circulating HOD RBCs</text>
<circle cx="48.20" cy="495.40" r="1.20" fill="#fff" stroke="#222" stroke-width="0.8"/>
<text x="52.60" y="497.30" font-size="5.7" text-anchor="start" fill="#1a1a1a" style="stroke-width:0.04px">C57BL/6</text>
<path d="M46.4,502.30 h3.6" stroke="#c8345a" stroke-width="0.9"/>
<circle cx="48.20" cy="502.30" r="1.20" fill="#6a0a1a" stroke="#111" stroke-width="0.4"/>
<text x="52.60" y="504.20" font-size="5.7" text-anchor="start" fill="#1a1a1a" style="stroke-width:0.04px">FcR<tspan font-size="3.76" dy="0.57">γ</tspan><tspan font-size="3.31" dy="-2.56" style="stroke-width:0.06px">fl/fl</tspan></text>
<path d="M46.4,509.20 h3.6" stroke="#f0a030" stroke-width="0.9"/>
<path d="M48.20,507.76 L49.64,509.20 L48.20,510.64 L46.76,509.20Z" fill="#5a3a10" stroke="#111" stroke-width="0.4"/>
<text x="52.60" y="511.10" font-size="5.7" text-anchor="start" fill="#1a1a1a" style="stroke-width:0.04px">FcR<tspan font-size="3.76" dy="0.57">γ</tspan><tspan font-size="3.31" dy="-2.56" style="stroke-width:0.06px">fl/fl</tspan><tspan dy="1.99"> x CMV</tspan><tspan font-size="3.31" dy="-2.28" style="stroke-width:0.06px">Cre+</tspan></text>
<path d="M104.2,495.60 h3.6" stroke="#4a6aac" stroke-width="0.9"/>
<path d="M106.00,496.92 L107.32,494.64 L104.68,494.64Z" fill="#0a1a4a" stroke="#111" stroke-width="0.4"/>
<text x="110.80" y="497.50" font-size="5.7" text-anchor="start" fill="#1a1a1a" style="stroke-width:0.04px">FcR<tspan font-size="3.76" dy="0.57">γ</tspan><tspan font-size="3.31" dy="-2.56" style="stroke-width:0.06px">fl/fl</tspan><tspan dy="1.99"> x Lyz2</tspan><tspan font-size="3.31" dy="-2.28" style="stroke-width:0.06px">Cre+</tspan></text>
<path d="M104.2,502.05 h3.6" stroke="#5aae34" stroke-width="0.9"/>
<path d="M106.00,500.73 L107.32,503.01 L104.68,503.01Z" fill="#1a3a0a" stroke="#111" stroke-width="0.4"/>
<text x="110.80" y="503.95" font-size="5.7" text-anchor="start" fill="#1a1a1a" style="stroke-width:0.04px">FcR<tspan font-size="3.76" dy="0.57">γ</tspan><tspan font-size="3.31" dy="-2.56" style="stroke-width:0.06px">fl/fl</tspan><tspan dy="1.99"> x Zbtb</tspan><tspan font-size="3.31" dy="-2.28" style="stroke-width:0.06px">Cre+</tspan></text>
<path d="M104.2,508.50 h3.6" stroke="#6a3a8a" stroke-width="0.9"/>
<path d="M106.00,507.06 L107.44,508.50 L106.00,509.94 L104.56,508.50Z" fill="#2a0a3a" stroke="#111" stroke-width="0.4"/>
<text x="110.80" y="510.40" font-size="5.7" text-anchor="start" fill="#1a1a1a" style="stroke-width:0.04px">FcR<tspan font-size="3.76" dy="0.57">γ</tspan><tspan font-size="3.31" dy="-2.56" style="stroke-width:0.06px">fl/fl</tspan><tspan dy="1.99"> x CD11c</tspan><tspan font-size="3.31" dy="-2.28" style="stroke-width:0.06px">Cre+</tspan></text>
<path d="M302.4,230.2 V322.8 H449.0" fill="none" stroke="#000" stroke-width="1.2"/>
<path d="M299.4,322.80 H302.4" stroke="#000" stroke-width="1.0"/>
<text x="296.20" y="324.60" font-size="5.1" text-anchor="end" fill="#1a1a1a" style="stroke-width:0.04px">0</text>
<path d="M299.4,292.70 H302.4" stroke="#000" stroke-width="1.0"/>
<text x="296.20" y="294.50" font-size="5.1" text-anchor="end" fill="#1a1a1a" style="stroke-width:0.04px">500</text>
<path d="M299.4,262.60 H302.4" stroke="#000" stroke-width="1.0"/>
<text x="296.20" y="264.40" font-size="5.1" text-anchor="end" fill="#1a1a1a" style="stroke-width:0.04px">1000</text>
<path d="M299.4,232.50 H302.4" stroke="#000" stroke-width="1.0"/>
<text x="296.20" y="234.30" font-size="5.1" text-anchor="end" fill="#1a1a1a" style="stroke-width:0.04px">1500</text>
<path d="M326.7,322.8 V325.6" stroke="#000" stroke-width="1.0"/>
<rect x="305.82" y="287.28" width="5.0" height="35.52" fill="#e4e4e6"/>
<rect x="313.18" y="275.84" width="5.0" height="46.96" fill="#e0907f"/>
<rect x="320.52" y="321.30" width="5.0" height="1.50" fill="#f5c98a"/>
<rect x="327.88" y="292.70" width="5.0" height="30.10" fill="#8a98cc"/>
<rect x="335.22" y="315.58" width="5.0" height="7.22" fill="#bfe3a0"/>
<rect x="342.57" y="318.59" width="5.0" height="4.21" fill="#b8a0cc"/>
<path d="M375.5,322.8 V325.6" stroke="#000" stroke-width="1.0"/>
<rect x="354.62" y="320.39" width="5.0" height="2.41" fill="#e4e4e6"/>
<circle cx="356.67" cy="321.80" r="1.05" fill="#fff" stroke="#222" stroke-width="0.6"/>
<circle cx="356.22" cy="320.68" r="1.05" fill="#fff" stroke="#222" stroke-width="0.6"/>
<circle cx="357.52" cy="319.55" r="1.05" fill="#fff" stroke="#222" stroke-width="0.6"/>
<circle cx="356.01" cy="318.43" r="1.05" fill="#fff" stroke="#222" stroke-width="0.6"/>
<circle cx="357.22" cy="317.30" r="1.05" fill="#fff" stroke="#222" stroke-width="0.6"/>
<rect x="361.98" y="320.39" width="5.0" height="2.41" fill="#e0907f"/>
<rect x="363.08" y="320.75" width="2.10" height="2.10" fill="#7a0a1a" stroke="#111" stroke-width="0.5"/>
<rect x="362.28" y="319.62" width="2.10" height="2.10" fill="#7a0a1a" stroke="#111" stroke-width="0.5"/>
<rect x="363.44" y="318.50" width="2.10" height="2.10" fill="#7a0a1a" stroke="#111" stroke-width="0.5"/>
<rect x="362.22" y="317.38" width="2.10" height="2.10" fill="#7a0a1a" stroke="#111" stroke-width="0.5"/>
<rect x="363.25" y="316.25" width="2.10" height="2.10" fill="#7a0a1a" stroke="#111" stroke-width="0.5"/>
<rect x="369.32" y="320.39" width="5.0" height="2.41" fill="#f5c98a"/>
<path d="M370.71,320.54 L371.97,321.80 L370.71,323.06 L369.45,321.80Z" fill="#6a4010" stroke="#111" stroke-width="0.5"/>
<path d="M370.76,318.42 L372.02,319.68 L370.76,320.94 L369.50,319.68Z" fill="#6a4010" stroke="#111" stroke-width="0.5"/>
<path d="M371.63,316.29 L372.89,317.55 L371.63,318.81 L370.37,317.55Z" fill="#6a4010" stroke="#111" stroke-width="0.5"/>
<path d="M372.67,314.17 L373.93,315.43 L372.67,316.69 L371.41,315.43Z" fill="#6a4010" stroke="#111" stroke-width="0.5"/>
<path d="M370.85,312.04 L372.11,313.30 L370.85,314.56 L369.59,313.30Z" fill="#6a4010" stroke="#111" stroke-width="0.5"/>
<rect x="376.68" y="320.39" width="5.0" height="2.41" fill="#8a98cc"/>
<path d="M379.18,321.8 V308.5 M377.68,308.5 h3" stroke="#111" stroke-width="0.8"/>
<path d="M379.18,310.01 L380.38,307.92 L377.97,307.92Z" fill="#0e2a6a" stroke="#111" stroke-width="0.5"/>
<path d="M378.46,322.95 L379.61,320.96 L377.30,320.96Z" fill="#0e2a6a" stroke="#111" stroke-width="0.5"/>
<path d="M379.51,321.08 L380.66,319.09 L378.35,319.09Z" fill="#0e2a6a" stroke="#111" stroke-width="0.5"/>
<path d="M380.34,319.20 L381.49,317.21 L379.18,317.21Z" fill="#0e2a6a" stroke="#111" stroke-width="0.5"/>
<path d="M379.38,317.33 L380.53,315.34 L378.22,315.34Z" fill="#0e2a6a" stroke="#111" stroke-width="0.5"/>
<path d="M378.91,315.45 L380.06,313.46 L377.75,313.46Z" fill="#0e2a6a" stroke="#111" stroke-width="0.5"/>
<rect x="384.02" y="320.39" width="5.0" height="2.41" fill="#bfe3a0"/>
<path d="M387.76,320.65 L388.92,322.64 L386.61,322.64Z" fill="#1a5a10" stroke="#111" stroke-width="0.5"/>
<path d="M385.35,319.52 L386.50,321.51 L384.19,321.51Z" fill="#1a5a10" stroke="#111" stroke-width="0.5"/>
<path d="M387.46,318.40 L388.61,320.39 L386.30,320.39Z" fill="#1a5a10" stroke="#111" stroke-width="0.5"/>
<path d="M385.98,317.27 L387.13,319.26 L384.82,319.26Z" fill="#1a5a10" stroke="#111" stroke-width="0.5"/>
<path d="M385.60,316.15 L386.76,318.14 L384.45,318.14Z" fill="#1a5a10" stroke="#111" stroke-width="0.5"/>
<rect x="391.38" y="320.39" width="5.0" height="2.41" fill="#b8a0cc"/>
<circle cx="392.88" cy="321.80" r="1.05" fill="#2a0a4a" stroke="#111" stroke-width="0.5"/>
<circle cx="393.38" cy="320.30" r="1.05" fill="#2a0a4a" stroke="#111" stroke-width="0.5"/>
<circle cx="394.70" cy="318.80" r="1.05" fill="#2a0a4a" stroke="#111" stroke-width="0.5"/>
<circle cx="393.04" cy="317.30" r="1.05" fill="#2a0a4a" stroke="#111" stroke-width="0.5"/>
<circle cx="394.09" cy="315.80" r="1.05" fill="#2a0a4a" stroke="#111" stroke-width="0.5"/>
<path d="M424.5,322.8 V325.6" stroke="#000" stroke-width="1.0"/>
<rect x="403.62" y="320.39" width="5.0" height="2.41" fill="#e4e4e6"/>
<circle cx="406.49" cy="321.80" r="1.05" fill="#fff" stroke="#222" stroke-width="0.6"/>
<circle cx="405.79" cy="320.68" r="1.05" fill="#fff" stroke="#222" stroke-width="0.6"/>
<circle cx="406.25" cy="319.55" r="1.05" fill="#fff" stroke="#222" stroke-width="0.6"/>
<circle cx="404.99" cy="318.43" r="1.05" fill="#fff" stroke="#222" stroke-width="0.6"/>
<circle cx="404.98" cy="317.30" r="1.05" fill="#fff" stroke="#222" stroke-width="0.6"/>
<rect x="410.98" y="316.48" width="5.0" height="6.32" fill="#e0907f"/>
<rect x="411.66" y="320.75" width="2.10" height="2.10" fill="#7a0a1a" stroke="#111" stroke-width="0.5"/>
<rect x="412.89" y="318.88" width="2.10" height="2.10" fill="#7a0a1a" stroke="#111" stroke-width="0.5"/>
<rect x="412.24" y="317.00" width="2.10" height="2.10" fill="#7a0a1a" stroke="#111" stroke-width="0.5"/>
<rect x="411.94" y="315.12" width="2.10" height="2.10" fill="#7a0a1a" stroke="#111" stroke-width="0.5"/>
<rect x="412.65" y="313.25" width="2.10" height="2.10" fill="#7a0a1a" stroke="#111" stroke-width="0.5"/>
<rect x="418.32" y="320.39" width="5.0" height="2.41" fill="#f5c98a"/>
<path d="M420.70,320.54 L421.96,321.80 L420.70,323.06 L419.44,321.80Z" fill="#6a4010" stroke="#111" stroke-width="0.5"/>
<path d="M420.30,319.29 L421.56,320.55 L420.30,321.81 L419.04,320.55Z" fill="#6a4010" stroke="#111" stroke-width="0.5"/>
<path d="M421.59,318.04 L422.85,319.30 L421.59,320.56 L420.33,319.30Z" fill="#6a4010" stroke="#111" stroke-width="0.5"/>
<path d="M421.34,316.79 L422.60,318.05 L421.34,319.31 L420.08,318.05Z" fill="#6a4010" stroke="#111" stroke-width="0.5"/>
<path d="M420.16,315.54 L421.42,316.80 L420.16,318.06 L418.90,316.80Z" fill="#6a4010" stroke="#111" stroke-width="0.5"/>
<rect x="425.68" y="320.39" width="5.0" height="2.41" fill="#8a98cc"/>
<path d="M428.37,322.95 L429.52,320.96 L427.21,320.96Z" fill="#0e2a6a" stroke="#111" stroke-width="0.5"/>
<path d="M428.24,321.20 L429.40,319.21 L427.09,319.21Z" fill="#0e2a6a" stroke="#111" stroke-width="0.5"/>
<path d="M429.15,319.45 L430.31,317.46 L428.00,317.46Z" fill="#0e2a6a" stroke="#111" stroke-width="0.5"/>
<path d="M428.77,317.70 L429.93,315.71 L427.62,315.71Z" fill="#0e2a6a" stroke="#111" stroke-width="0.5"/>
<path d="M427.62,315.95 L428.78,313.96 L426.47,313.96Z" fill="#0e2a6a" stroke="#111" stroke-width="0.5"/>
<rect x="433.02" y="320.39" width="5.0" height="2.41" fill="#bfe3a0"/>
<path d="M436.77,320.65 L437.93,322.64 L435.62,322.64Z" fill="#1a5a10" stroke="#111" stroke-width="0.5"/>
<path d="M434.53,319.52 L435.69,321.51 L433.38,321.51Z" fill="#1a5a10" stroke="#111" stroke-width="0.5"/>
<path d="M435.31,318.40 L436.47,320.39 L434.16,320.39Z" fill="#1a5a10" stroke="#111" stroke-width="0.5"/>
<path d="M436.19,317.27 L437.35,319.26 L435.04,319.26Z" fill="#1a5a10" stroke="#111" stroke-width="0.5"/>
<path d="M434.62,316.15 L435.78,318.14 L433.47,318.14Z" fill="#1a5a10" stroke="#111" stroke-width="0.5"/>
<rect x="440.38" y="320.39" width="5.0" height="2.41" fill="#b8a0cc"/>
<circle cx="442.85" cy="321.80" r="1.05" fill="#2a0a4a" stroke="#111" stroke-width="0.5"/>
<circle cx="441.68" cy="320.05" r="1.05" fill="#2a0a4a" stroke="#111" stroke-width="0.5"/>
<circle cx="443.31" cy="318.30" r="1.05" fill="#2a0a4a" stroke="#111" stroke-width="0.5"/>
<circle cx="443.56" cy="316.55" r="1.05" fill="#2a0a4a" stroke="#111" stroke-width="0.5"/>
<circle cx="443.06" cy="314.80" r="1.05" fill="#2a0a4a" stroke="#111" stroke-width="0.5"/>
<path d="M301.79999999999995,322.8 H449.0" fill="none" stroke="#000" stroke-width="1.2"/>
<path d="M308.32,287.28 V261.52 M306.82,261.52 h3" stroke="#111" stroke-width="0.8"/>
<circle cx="308.70" cy="260.97" r="1.30" fill="#fff" stroke="#222" stroke-width="0.9"/>
<circle cx="308.14" cy="277.53" r="1.30" fill="#fff" stroke="#222" stroke-width="0.9"/>
<circle cx="308.52" cy="282.53" r="1.30" fill="#fff" stroke="#222" stroke-width="0.9"/>
<circle cx="308.42" cy="304.98" r="1.30" fill="#fff" stroke="#222" stroke-width="0.9"/>
<circle cx="308.40" cy="315.52" r="1.30" fill="#fff" stroke="#222" stroke-width="0.9"/>
<path d="M315.68,286.68 V265.01 M314.18,265.01 h3" stroke="#111" stroke-width="0.8"/>
<rect x="314.28" y="263.84" width="2.70" height="2.70" fill="#7a0a1a" stroke="#111" stroke-width="0.5"/>
<rect x="314.66" y="270.04" width="2.70" height="2.70" fill="#7a0a1a" stroke="#111" stroke-width="0.5"/>
<rect x="314.77" y="271.66" width="2.70" height="2.70" fill="#7a0a1a" stroke="#111" stroke-width="0.5"/>
<rect x="314.30" y="281.18" width="2.70" height="2.70" fill="#7a0a1a" stroke="#111" stroke-width="0.5"/>
<rect x="314.49" y="286.17" width="2.70" height="2.70" fill="#7a0a1a" stroke="#111" stroke-width="0.5"/>
<path d="M322.59,318.41 L324.21,320.03 L322.59,321.65 L320.97,320.03Z" fill="#6a4010" stroke="#111" stroke-width="0.5"/>
<path d="M323.23,319.37 L324.85,320.99 L323.23,322.61 L321.61,320.99Z" fill="#6a4010" stroke="#111" stroke-width="0.5"/>
<path d="M323.17,319.98 L324.79,321.60 L323.17,323.22 L321.55,321.60Z" fill="#6a4010" stroke="#111" stroke-width="0.5"/>
<path d="M330.38,310.04 V277.53 M328.88,277.53 h3" stroke="#111" stroke-width="0.8"/>
<path d="M330.87,279.01 L332.35,276.45 L329.38,276.45Z" fill="#0e2a6a" stroke="#111" stroke-width="0.5"/>
<path d="M330.70,282.99 L332.18,280.42 L329.21,280.42Z" fill="#0e2a6a" stroke="#111" stroke-width="0.5"/>
<path d="M330.16,289.97 L331.64,287.41 L328.67,287.41Z" fill="#0e2a6a" stroke="#111" stroke-width="0.5"/>
<path d="M330.26,301.47 L331.75,298.90 L328.78,298.90Z" fill="#0e2a6a" stroke="#111" stroke-width="0.5"/>
<path d="M330.54,311.52 L332.03,308.96 L329.06,308.96Z" fill="#0e2a6a" stroke="#111" stroke-width="0.5"/>
<path d="M337.72,315.58 V304.98 M336.22,304.98 h3" stroke="#111" stroke-width="0.8"/>
<path d="M337.25,303.50 L338.73,306.06 L335.76,306.06Z" fill="#1a5a10" stroke="#111" stroke-width="0.5"/>
<path d="M337.69,308.55 L339.17,311.12 L336.20,311.12Z" fill="#1a5a10" stroke="#111" stroke-width="0.5"/>
<path d="M337.39,317.52 L338.88,320.09 L335.91,320.09Z" fill="#1a5a10" stroke="#111" stroke-width="0.5"/>
<path d="M337.34,318.91 L338.83,321.47 L335.86,321.47Z" fill="#1a5a10" stroke="#111" stroke-width="0.5"/>
<circle cx="344.63" cy="319.01" r="1.35" fill="#2a0a4a" stroke="#111" stroke-width="0.5"/>
<circle cx="345.34" cy="320.09" r="1.35" fill="#2a0a4a" stroke="#111" stroke-width="0.5"/>
<circle cx="344.70" cy="320.51" r="1.35" fill="#2a0a4a" stroke="#111" stroke-width="0.5"/>
<path d="M308.32,256.5 V230.2 H344.4 V289.5" fill="none" stroke="#111" stroke-width="1.0"/>
<text x="326.20" y="230.70" font-size="4.4" text-anchor="middle" fill="#333" letter-spacing="0.25" style="stroke-width:0px">****</text>
<path d="M308.32,256.5 V234.3 H337.8 V274.5" fill="none" stroke="#111" stroke-width="1.0"/>
<text x="323.10" y="234.80" font-size="4.4" text-anchor="middle" fill="#333" letter-spacing="0.25" style="stroke-width:0px">**</text>
<path d="M308.32,256.5 V238.5 H322.2 V278.5" fill="none" stroke="#111" stroke-width="1.0"/>
<text x="314.90" y="239.00" font-size="4.4" text-anchor="middle" fill="#333" letter-spacing="0.25" style="stroke-width:0px">****</text>
<text x="375.60" y="221.50" font-size="7.2" text-anchor="middle" fill="#1a1a1a">Anti-HOD IgM Alloantibodies</text>
<text x="0.00" y="0.00" font-size="6.6" text-anchor="middle" font-weight="bold" fill="#1a1a1a" transform="translate(278.90,276.20) rotate(-90)" textLength="29.3" lengthAdjust="spacingAndGlyphs">Adjusted MFI</text>
<rect x="380.0" y="246.40" width="4.2" height="4.2" fill="#c8c8d0"/>
<text x="387.20" y="250.50" font-size="5.6" text-anchor="start" fill="#1a1a1a" style="stroke-width:0.04px">C57BL/6</text>
<rect x="380.0" y="253.40" width="4.2" height="4.2" fill="#a01030"/>
<text x="387.20" y="257.50" font-size="5.6" text-anchor="start" fill="#1a1a1a" style="stroke-width:0.04px">FcR<tspan font-size="3.70" dy="0.56">γ</tspan><tspan font-size="3.25" dy="-2.52" style="stroke-width:0.06px">fl/fl</tspan></text>
<rect x="380.0" y="260.40" width="4.2" height="4.2" fill="#e8901a"/>
<text x="387.20" y="264.50" font-size="5.6" text-anchor="start" fill="#1a1a1a" style="stroke-width:0.04px">FcR<tspan font-size="3.70" dy="0.56">γ</tspan><tspan font-size="3.25" dy="-2.52" style="stroke-width:0.06px">fl/fl</tspan><tspan dy="1.96"> x CMV</tspan><tspan font-size="3.25" dy="-2.24" style="stroke-width:0.06px">Cre+</tspan></text>
<rect x="380.0" y="267.40" width="4.2" height="4.2" fill="#1a3a80"/>
<text x="387.20" y="271.50" font-size="5.6" text-anchor="start" fill="#1a1a1a" style="stroke-width:0.04px">FcR<tspan font-size="3.70" dy="0.56">γ</tspan><tspan font-size="3.25" dy="-2.52" style="stroke-width:0.06px">fl/fl</tspan><tspan dy="1.96"> x Lyz2</tspan><tspan font-size="3.25" dy="-2.24" style="stroke-width:0.06px">Cre+</tspan></text>
<rect x="380.0" y="274.40" width="4.2" height="4.2" fill="#50a030"/>
<text x="387.20" y="278.50" font-size="5.6" text-anchor="start" fill="#1a1a1a" style="stroke-width:0.04px">FcR<tspan font-size="3.70" dy="0.56">γ</tspan><tspan font-size="3.25" dy="-2.52" style="stroke-width:0.06px">fl/fl</tspan><tspan dy="1.96"> x Zbtb</tspan><tspan font-size="3.25" dy="-2.24" style="stroke-width:0.06px">Cre+</tspan></text>
<rect x="380.0" y="281.40" width="4.2" height="4.2" fill="#4a1a6a"/>
<text x="387.20" y="285.50" font-size="5.6" text-anchor="start" fill="#1a1a1a" style="stroke-width:0.04px">FcR<tspan font-size="3.70" dy="0.56">γ</tspan><tspan font-size="3.25" dy="-2.52" style="stroke-width:0.06px">fl/fl</tspan><tspan dy="1.96"> x CD11c</tspan><tspan font-size="3.25" dy="-2.24" style="stroke-width:0.06px">Cre+</tspan></text>
<text x="326.70" y="334.50" font-size="5.25" text-anchor="middle" fill="#1a1a1a" style="stroke-width:0.04px">anti-HOD mAb IgG2c</text>
<text x="375.50" y="334.50" font-size="5.25" text-anchor="middle" fill="#1a1a1a" style="stroke-width:0.04px">anti-K mAb IgG2c</text>
<text x="424.50" y="334.50" font-size="5.25" text-anchor="middle" fill="#1a1a1a" style="stroke-width:0.04px">PBS</text>
<path d="M44.2,562.2 V657.2 H194.2" fill="none" stroke="#000" stroke-width="1.2"/>
<path d="M41.300000000000004,657.20 H44.2" stroke="#000" stroke-width="1.0"/>
<text x="39.20" y="659.00" font-size="5.1" text-anchor="end" fill="#1a1a1a" style="stroke-width:0.04px">0</text>
<path d="M41.300000000000004,641.80 H44.2" stroke="#000" stroke-width="1.0"/>
<text x="39.20" y="643.60" font-size="5.1" text-anchor="end" fill="#1a1a1a" style="stroke-width:0.04px">500</text>
<path d="M41.300000000000004,626.40 H44.2" stroke="#000" stroke-width="1.0"/>
<text x="39.20" y="628.20" font-size="5.1" text-anchor="end" fill="#1a1a1a" style="stroke-width:0.04px">1000</text>
<path d="M41.300000000000004,611.00 H44.2" stroke="#000" stroke-width="1.0"/>
<text x="39.20" y="612.80" font-size="5.1" text-anchor="end" fill="#1a1a1a" style="stroke-width:0.04px">1500</text>
<path d="M41.300000000000004,595.60 H44.2" stroke="#000" stroke-width="1.0"/>
<text x="39.20" y="597.40" font-size="5.1" text-anchor="end" fill="#1a1a1a" style="stroke-width:0.04px">2000</text>
<path d="M41.300000000000004,580.20 H44.2" stroke="#000" stroke-width="1.0"/>
<text x="39.20" y="582.00" font-size="5.1" text-anchor="end" fill="#1a1a1a" style="stroke-width:0.04px">2500</text>
<path d="M41.300000000000004,564.80 H44.2" stroke="#000" stroke-width="1.0"/>
<text x="39.20" y="566.60" font-size="5.1" text-anchor="end" fill="#1a1a1a" style="stroke-width:0.04px">3000</text>
<path d="M68.20,657.2 V660.0" stroke="#000" stroke-width="1.0"/>
<rect x="46.45" y="629.94" width="7.0" height="27.26" fill="#e4e4e6"/>
<rect x="53.75" y="634.81" width="7.0" height="22.39" fill="#e0907f"/>
<rect x="61.05" y="651.81" width="7.0" height="5.39" fill="#f5c98a"/>
<rect x="68.35" y="635.64" width="7.0" height="21.56" fill="#8a98cc"/>
<rect x="75.65" y="650.12" width="7.0" height="7.08" fill="#bfe3a0"/>
<rect x="82.95" y="652.58" width="7.0" height="4.62" fill="#b8a0cc"/>
<text x="68.20" y="667.80" font-size="5.25" text-anchor="middle" fill="#1a1a1a" style="stroke-width:0.04px">anti-HOD mAb IgG2c</text>
<path d="M119.20,657.2 V660.0" stroke="#000" stroke-width="1.0"/>
<rect x="97.45" y="653.81" width="7.0" height="3.39" fill="#e4e4e6"/>
<circle cx="98.70" cy="653.46" r="0.90" fill="#fff" stroke="#333" stroke-width="0.5"/>
<circle cx="100.20" cy="653.66" r="0.90" fill="#fff" stroke="#333" stroke-width="0.5"/>
<circle cx="101.70" cy="654.33" r="0.90" fill="#fff" stroke="#333" stroke-width="0.5"/>
<circle cx="103.20" cy="653.22" r="0.90" fill="#fff" stroke="#333" stroke-width="0.5"/>
<rect x="104.75" y="653.50" width="7.0" height="3.70" fill="#e0907f"/>
<rect x="105.10" y="652.53" width="1.80" height="1.80" fill="#7a0a1a" stroke="#111" stroke-width="0.5"/>
<rect x="106.60" y="652.67" width="1.80" height="1.80" fill="#7a0a1a" stroke="#111" stroke-width="0.5"/>
<rect x="108.10" y="653.14" width="1.80" height="1.80" fill="#7a0a1a" stroke="#111" stroke-width="0.5"/>
<rect x="109.60" y="653.05" width="1.80" height="1.80" fill="#7a0a1a" stroke="#111" stroke-width="0.5"/>
<rect x="112.05" y="653.20" width="7.0" height="4.00" fill="#f5c98a"/>
<path d="M113.30,652.63 L114.38,653.71 L113.30,654.79 L112.22,653.71Z" fill="#6a4010" stroke="#111" stroke-width="0.5"/>
<path d="M114.80,651.81 L115.88,652.89 L114.80,653.97 L113.72,652.89Z" fill="#6a4010" stroke="#111" stroke-width="0.5"/>
<path d="M116.30,652.00 L117.38,653.08 L116.30,654.16 L115.22,653.08Z" fill="#6a4010" stroke="#111" stroke-width="0.5"/>
<path d="M117.80,651.92 L118.88,653.00 L117.80,654.08 L116.72,653.00Z" fill="#6a4010" stroke="#111" stroke-width="0.5"/>
<rect x="119.35" y="653.50" width="7.0" height="3.70" fill="#8a98cc"/>
<path d="M120.60,655.03 L121.59,653.32 L119.61,653.32Z" fill="#0e2a6a" stroke="#111" stroke-width="0.5"/>
<path d="M122.10,655.13 L123.09,653.42 L121.11,653.42Z" fill="#0e2a6a" stroke="#111" stroke-width="0.5"/>
<path d="M123.60,654.01 L124.59,652.30 L122.61,652.30Z" fill="#0e2a6a" stroke="#111" stroke-width="0.5"/>
<path d="M125.10,654.04 L126.09,652.33 L124.11,652.33Z" fill="#0e2a6a" stroke="#111" stroke-width="0.5"/>
<rect x="126.65" y="653.81" width="7.0" height="3.39" fill="#bfe3a0"/>
<path d="M127.90,652.45 L128.89,654.16 L126.91,654.16Z" fill="#1a5a10" stroke="#111" stroke-width="0.5"/>
<path d="M129.40,652.45 L130.39,654.16 L128.41,654.16Z" fill="#1a5a10" stroke="#111" stroke-width="0.5"/>
<path d="M130.90,652.80 L131.89,654.51 L129.91,654.51Z" fill="#1a5a10" stroke="#111" stroke-width="0.5"/>
<path d="M132.40,652.95 L133.39,654.66 L131.41,654.66Z" fill="#1a5a10" stroke="#111" stroke-width="0.5"/>
<rect x="133.95" y="653.50" width="7.0" height="3.70" fill="#b8a0cc"/>
<circle cx="135.20" cy="653.17" r="0.90" fill="#2a0a4a" stroke="#111" stroke-width="0.5"/>
<circle cx="136.70" cy="652.81" r="0.90" fill="#2a0a4a" stroke="#111" stroke-width="0.5"/>
<circle cx="138.20" cy="653.39" r="0.90" fill="#2a0a4a" stroke="#111" stroke-width="0.5"/>
<circle cx="139.70" cy="653.32" r="0.90" fill="#2a0a4a" stroke="#111" stroke-width="0.5"/>
<text x="119.20" y="667.80" font-size="5.25" text-anchor="middle" fill="#1a1a1a" style="stroke-width:0.04px">anti-K mAb IgG2c</text>
<path d="M170.20,657.2 V660.0" stroke="#000" stroke-width="1.0"/>
<rect x="148.45" y="654.12" width="7.0" height="3.08" fill="#e4e4e6"/>
<circle cx="149.70" cy="654.21" r="0.90" fill="#fff" stroke="#333" stroke-width="0.5"/>
<circle cx="151.20" cy="654.75" r="0.90" fill="#fff" stroke="#333" stroke-width="0.5"/>
<circle cx="152.70" cy="654.39" r="0.90" fill="#fff" stroke="#333" stroke-width="0.5"/>
<circle cx="154.20" cy="654.14" r="0.90" fill="#fff" stroke="#333" stroke-width="0.5"/>
<rect x="155.75" y="652.58" width="7.0" height="4.62" fill="#e0907f"/>
<rect x="156.10" y="651.84" width="1.80" height="1.80" fill="#7a0a1a" stroke="#111" stroke-width="0.5"/>
<rect x="157.60" y="651.93" width="1.80" height="1.80" fill="#7a0a1a" stroke="#111" stroke-width="0.5"/>
<rect x="159.10" y="651.06" width="1.80" height="1.80" fill="#7a0a1a" stroke="#111" stroke-width="0.5"/>
<rect x="160.60" y="652.24" width="1.80" height="1.80" fill="#7a0a1a" stroke="#111" stroke-width="0.5"/>
<rect x="163.05" y="653.50" width="7.0" height="3.70" fill="#f5c98a"/>
<path d="M164.30,652.82 L165.38,653.90 L164.30,654.98 L163.22,653.90Z" fill="#6a4010" stroke="#111" stroke-width="0.5"/>
<path d="M165.80,652.95 L166.88,654.03 L165.80,655.11 L164.72,654.03Z" fill="#6a4010" stroke="#111" stroke-width="0.5"/>
<path d="M167.30,652.84 L168.38,653.92 L167.30,655.00 L166.22,653.92Z" fill="#6a4010" stroke="#111" stroke-width="0.5"/>
<path d="M168.80,652.27 L169.88,653.35 L168.80,654.43 L167.72,653.35Z" fill="#6a4010" stroke="#111" stroke-width="0.5"/>
<rect x="170.35" y="653.81" width="7.0" height="3.39" fill="#8a98cc"/>
<path d="M171.60,654.66 L172.59,652.95 L170.61,652.95Z" fill="#0e2a6a" stroke="#111" stroke-width="0.5"/>
<path d="M173.10,654.25 L174.09,652.54 L172.11,652.54Z" fill="#0e2a6a" stroke="#111" stroke-width="0.5"/>
<path d="M174.60,654.99 L175.59,653.28 L173.61,653.28Z" fill="#0e2a6a" stroke="#111" stroke-width="0.5"/>
<path d="M176.10,654.19 L177.09,652.48 L175.11,652.48Z" fill="#0e2a6a" stroke="#111" stroke-width="0.5"/>
<rect x="177.65" y="654.12" width="7.0" height="3.08" fill="#bfe3a0"/>
<path d="M178.90,652.52 L179.89,654.23 L177.91,654.23Z" fill="#1a5a10" stroke="#111" stroke-width="0.5"/>
<path d="M180.40,652.72 L181.39,654.43 L179.41,654.43Z" fill="#1a5a10" stroke="#111" stroke-width="0.5"/>
<path d="M181.90,652.66 L182.89,654.37 L180.91,654.37Z" fill="#1a5a10" stroke="#111" stroke-width="0.5"/>
<path d="M183.40,652.91 L184.39,654.62 L182.41,654.62Z" fill="#1a5a10" stroke="#111" stroke-width="0.5"/>
<rect x="184.95" y="653.50" width="7.0" height="3.70" fill="#b8a0cc"/>
<circle cx="186.20" cy="652.88" r="0.90" fill="#2a0a4a" stroke="#111" stroke-width="0.5"/>
<circle cx="187.70" cy="652.80" r="0.90" fill="#2a0a4a" stroke="#111" stroke-width="0.5"/>
<circle cx="189.20" cy="653.02" r="0.90" fill="#2a0a4a" stroke="#111" stroke-width="0.5"/>
<circle cx="190.70" cy="652.95" r="0.90" fill="#2a0a4a" stroke="#111" stroke-width="0.5"/>
<text x="170.20" y="667.80" font-size="5.25" text-anchor="middle" fill="#1a1a1a" style="stroke-width:0.04px">PBS</text>
<path d="M43.6,657.2 H194.2" fill="none" stroke="#000" stroke-width="1.2"/>
<text x="119.40" y="548.40" font-size="7.2" text-anchor="middle" fill="#1a1a1a">Anti-HOD Igs Alloantibodies</text>
<text x="119.40" y="557.60" font-size="7.2" text-anchor="middle" fill="#1a1a1a">Day 7</text>
<path d="M49.95,629.94 V617.01 M48.35,617.01 h3.2" stroke="#111" stroke-width="0.8"/>
<path d="M49.79,618.27 L51.05,616.09 L48.52,616.09Z" fill="#888" stroke="#111" stroke-width="0.5"/>
<path d="M49.38,626.62 L50.76,628.00 L49.38,629.38 L48.00,628.00Z" fill="#888" stroke="#111" stroke-width="0.5"/>
<circle cx="50.40" cy="636.50" r="1.15" fill="#888" stroke="#111" stroke-width="0.5"/>
<circle cx="50.09" cy="647.01" r="1.15" fill="#888" stroke="#111" stroke-width="0.5"/>
<path d="M57.25,643.49 V625.51 M55.65,625.51 h3.2" stroke="#111" stroke-width="0.8"/>
<path d="M55.65,643.49 h3.2" stroke="#111" stroke-width="0.8"/>
<circle cx="56.83" cy="626.00" r="1.15" fill="#7a0a1a" stroke="#111" stroke-width="0.5"/>
<circle cx="56.95" cy="628.99" r="1.15" fill="#7a0a1a" stroke="#111" stroke-width="0.5"/>
<circle cx="57.07" cy="641.00" r="1.15" fill="#7a0a1a" stroke="#111" stroke-width="0.5"/>
<circle cx="57.09" cy="647.50" r="1.15" fill="#7a0a1a" stroke="#111" stroke-width="0.5"/>
<path d="M64.55,651.81 V645.00 M62.95,645.00 h3.2" stroke="#111" stroke-width="0.8"/>
<path d="M64.10,644.61 L65.48,645.99 L64.10,647.37 L62.72,645.99Z" fill="#6a4010" stroke="#111" stroke-width="0.5"/>
<path d="M64.97,647.81 L66.35,649.19 L64.97,650.57 L63.59,649.19Z" fill="#6a4010" stroke="#111" stroke-width="0.5"/>
<path d="M65.14,651.20 L66.52,652.58 L65.14,653.96 L63.76,652.58Z" fill="#6a4010" stroke="#111" stroke-width="0.5"/>
<path d="M64.51,652.74 L65.89,654.12 L64.51,655.50 L63.13,654.12Z" fill="#6a4010" stroke="#111" stroke-width="0.5"/>
<path d="M71.85,640.01 V631.51 M70.25,631.51 h3.2" stroke="#111" stroke-width="0.8"/>
<path d="M70.25,640.01 h3.2" stroke="#111" stroke-width="0.8"/>
<path d="M71.83,633.27 L73.10,631.09 L70.57,631.09Z" fill="#0e2a6a" stroke="#111" stroke-width="0.5"/>
<path d="M71.35,634.26 L72.62,632.07 L70.09,632.07Z" fill="#0e2a6a" stroke="#111" stroke-width="0.5"/>
<path d="M71.37,637.27 L72.64,635.09 L70.11,635.09Z" fill="#0e2a6a" stroke="#111" stroke-width="0.5"/>
<path d="M71.66,640.26 L72.93,638.08 L70.40,638.08Z" fill="#0e2a6a" stroke="#111" stroke-width="0.5"/>
<path d="M79.15,650.12 V643.00 M77.55,643.00 h3.2" stroke="#111" stroke-width="0.8"/>
<path d="M78.87,643.74 L80.13,645.92 L77.60,645.92Z" fill="#1a5a10" stroke="#111" stroke-width="0.5"/>
<path d="M79.54,647.74 L80.81,649.93 L78.28,649.93Z" fill="#1a5a10" stroke="#111" stroke-width="0.5"/>
<path d="M78.74,649.74 L80.01,651.93 L77.48,651.93Z" fill="#1a5a10" stroke="#111" stroke-width="0.5"/>
<path d="M78.58,651.75 L79.84,653.93 L77.31,653.93Z" fill="#1a5a10" stroke="#111" stroke-width="0.5"/>
<circle cx="86.99" cy="651.99" r="1.15" fill="#2a0a4a" stroke="#111" stroke-width="0.5"/>
<circle cx="86.48" cy="653.01" r="1.15" fill="#2a0a4a" stroke="#111" stroke-width="0.5"/>
<circle cx="86.03" cy="654.00" r="1.15" fill="#2a0a4a" stroke="#111" stroke-width="0.5"/>
<path d="M203.5,562.2 V657.2 H353.5" fill="none" stroke="#000" stroke-width="1.2"/>
<path d="M200.6,657.20 H203.5" stroke="#000" stroke-width="1.0"/>
<path d="M200.6,641.80 H203.5" stroke="#000" stroke-width="1.0"/>
<path d="M200.6,626.40 H203.5" stroke="#000" stroke-width="1.0"/>
<path d="M200.6,611.00 H203.5" stroke="#000" stroke-width="1.0"/>
<path d="M200.6,595.60 H203.5" stroke="#000" stroke-width="1.0"/>
<path d="M200.6,580.20 H203.5" stroke="#000" stroke-width="1.0"/>
<path d="M200.6,564.80 H203.5" stroke="#000" stroke-width="1.0"/>
<path d="M226.90,657.2 V660.0" stroke="#000" stroke-width="1.0"/>
<rect x="205.15" y="612.54" width="7.0" height="44.66" fill="#e4e4e6"/>
<rect x="212.45" y="610.38" width="7.0" height="46.82" fill="#e0907f"/>
<rect x="219.75" y="652.89" width="7.0" height="4.31" fill="#f5c98a"/>
<rect x="227.05" y="614.70" width="7.0" height="42.50" fill="#8a98cc"/>
<rect x="234.35" y="649.04" width="7.0" height="8.16" fill="#bfe3a0"/>
<rect x="241.65" y="653.66" width="7.0" height="3.54" fill="#b8a0cc"/>
<text x="226.90" y="667.80" font-size="5.25" text-anchor="middle" fill="#1a1a1a" style="stroke-width:0.04px">anti-HOD mAb IgG2c</text>
<path d="M277.90,657.2 V660.0" stroke="#000" stroke-width="1.0"/>
<rect x="256.15" y="654.43" width="7.0" height="2.77" fill="#e4e4e6"/>
<circle cx="257.40" cy="654.49" r="0.90" fill="#fff" stroke="#333" stroke-width="0.5"/>
<circle cx="258.90" cy="653.77" r="0.90" fill="#fff" stroke="#333" stroke-width="0.5"/>
<circle cx="260.40" cy="654.47" r="0.90" fill="#fff" stroke="#333" stroke-width="0.5"/>
<circle cx="261.90" cy="655.10" r="0.90" fill="#fff" stroke="#333" stroke-width="0.5"/>
<rect x="263.45" y="654.12" width="7.0" height="3.08" fill="#e0907f"/>
<rect x="263.80" y="653.73" width="1.80" height="1.80" fill="#7a0a1a" stroke="#111" stroke-width="0.5"/>
<rect x="265.30" y="653.49" width="1.80" height="1.80" fill="#7a0a1a" stroke="#111" stroke-width="0.5"/>
<rect x="266.80" y="652.89" width="1.80" height="1.80" fill="#7a0a1a" stroke="#111" stroke-width="0.5"/>
<rect x="268.30" y="653.03" width="1.80" height="1.80" fill="#7a0a1a" stroke="#111" stroke-width="0.5"/>
<rect x="270.75" y="652.27" width="7.0" height="4.93" fill="#f5c98a"/>
<path d="M272.00,650.73 L273.08,651.81 L272.00,652.89 L270.92,651.81Z" fill="#6a4010" stroke="#111" stroke-width="0.5"/>
<path d="M273.50,651.57 L274.58,652.65 L273.50,653.73 L272.42,652.65Z" fill="#6a4010" stroke="#111" stroke-width="0.5"/>
<path d="M275.00,651.24 L276.08,652.32 L275.00,653.40 L273.92,652.32Z" fill="#6a4010" stroke="#111" stroke-width="0.5"/>
<path d="M276.50,651.58 L277.58,652.66 L276.50,653.74 L275.42,652.66Z" fill="#6a4010" stroke="#111" stroke-width="0.5"/>
<rect x="278.05" y="653.81" width="7.0" height="3.39" fill="#8a98cc"/>
<path d="M279.30,654.56 L280.29,652.85 L278.31,652.85Z" fill="#0e2a6a" stroke="#111" stroke-width="0.5"/>
<path d="M280.80,654.41 L281.79,652.70 L279.81,652.70Z" fill="#0e2a6a" stroke="#111" stroke-width="0.5"/>
<path d="M282.30,655.24 L283.29,653.53 L281.31,653.53Z" fill="#0e2a6a" stroke="#111" stroke-width="0.5"/>
<path d="M283.80,655.48 L284.79,653.77 L282.81,653.77Z" fill="#0e2a6a" stroke="#111" stroke-width="0.5"/>
<rect x="285.35" y="654.12" width="7.0" height="3.08" fill="#bfe3a0"/>
<path d="M286.60,653.62 L287.59,655.33 L285.61,655.33Z" fill="#1a5a10" stroke="#111" stroke-width="0.5"/>
<path d="M288.10,653.56 L289.09,655.27 L287.11,655.27Z" fill="#1a5a10" stroke="#111" stroke-width="0.5"/>
<path d="M289.60,653.58 L290.59,655.29 L288.61,655.29Z" fill="#1a5a10" stroke="#111" stroke-width="0.5"/>
<path d="M291.10,653.47 L292.09,655.18 L290.11,655.18Z" fill="#1a5a10" stroke="#111" stroke-width="0.5"/>
<rect x="292.65" y="653.81" width="7.0" height="3.39" fill="#b8a0cc"/>
<circle cx="293.90" cy="653.43" r="0.90" fill="#2a0a4a" stroke="#111" stroke-width="0.5"/>
<circle cx="295.40" cy="653.84" r="0.90" fill="#2a0a4a" stroke="#111" stroke-width="0.5"/>
<circle cx="296.90" cy="653.61" r="0.90" fill="#2a0a4a" stroke="#111" stroke-width="0.5"/>
<circle cx="298.40" cy="653.15" r="0.90" fill="#2a0a4a" stroke="#111" stroke-width="0.5"/>
<text x="277.90" y="667.80" font-size="5.25" text-anchor="middle" fill="#1a1a1a" style="stroke-width:0.04px">anti-K mAb IgG2c</text>
<path d="M328.90,657.2 V660.0" stroke="#000" stroke-width="1.0"/>
<rect x="307.15" y="654.43" width="7.0" height="2.77" fill="#e4e4e6"/>
<circle cx="308.40" cy="653.77" r="0.90" fill="#fff" stroke="#333" stroke-width="0.5"/>
<circle cx="309.90" cy="654.12" r="0.90" fill="#fff" stroke="#333" stroke-width="0.5"/>
<circle cx="311.40" cy="654.09" r="0.90" fill="#fff" stroke="#333" stroke-width="0.5"/>
<circle cx="312.90" cy="654.70" r="0.90" fill="#fff" stroke="#333" stroke-width="0.5"/>
<rect x="314.45" y="654.12" width="7.0" height="3.08" fill="#e0907f"/>
<rect x="314.80" y="653.86" width="1.80" height="1.80" fill="#7a0a1a" stroke="#111" stroke-width="0.5"/>
<rect x="316.30" y="653.15" width="1.80" height="1.80" fill="#7a0a1a" stroke="#111" stroke-width="0.5"/>
<rect x="317.80" y="653.83" width="1.80" height="1.80" fill="#7a0a1a" stroke="#111" stroke-width="0.5"/>
<rect x="319.30" y="653.90" width="1.80" height="1.80" fill="#7a0a1a" stroke="#111" stroke-width="0.5"/>
<rect x="321.75" y="653.81" width="7.0" height="3.39" fill="#f5c98a"/>
<path d="M323.00,653.37 L324.08,654.45 L323.00,655.53 L321.92,654.45Z" fill="#6a4010" stroke="#111" stroke-width="0.5"/>
<path d="M324.50,652.54 L325.58,653.62 L324.50,654.70 L323.42,653.62Z" fill="#6a4010" stroke="#111" stroke-width="0.5"/>
<path d="M326.00,652.34 L327.08,653.42 L326.00,654.50 L324.92,653.42Z" fill="#6a4010" stroke="#111" stroke-width="0.5"/>
<path d="M327.50,652.35 L328.58,653.43 L327.50,654.51 L326.42,653.43Z" fill="#6a4010" stroke="#111" stroke-width="0.5"/>
<rect x="329.05" y="654.12" width="7.0" height="3.08" fill="#8a98cc"/>
<path d="M330.30,654.69 L331.29,652.98 L329.31,652.98Z" fill="#0e2a6a" stroke="#111" stroke-width="0.5"/>
<path d="M331.80,654.70 L332.79,652.99 L330.81,652.99Z" fill="#0e2a6a" stroke="#111" stroke-width="0.5"/>
<path d="M333.30,655.28 L334.29,653.57 L332.31,653.57Z" fill="#0e2a6a" stroke="#111" stroke-width="0.5"/>
<path d="M334.80,655.67 L335.79,653.96 L333.81,653.96Z" fill="#0e2a6a" stroke="#111" stroke-width="0.5"/>
<rect x="336.35" y="654.12" width="7.0" height="3.08" fill="#bfe3a0"/>
<path d="M337.60,653.61 L338.59,655.32 L336.61,655.32Z" fill="#1a5a10" stroke="#111" stroke-width="0.5"/>
<path d="M339.10,653.10 L340.09,654.81 L338.11,654.81Z" fill="#1a5a10" stroke="#111" stroke-width="0.5"/>
<path d="M340.60,653.34 L341.59,655.05 L339.61,655.05Z" fill="#1a5a10" stroke="#111" stroke-width="0.5"/>
<path d="M342.10,653.55 L343.09,655.26 L341.11,655.26Z" fill="#1a5a10" stroke="#111" stroke-width="0.5"/>
<rect x="343.65" y="653.81" width="7.0" height="3.39" fill="#b8a0cc"/>
<circle cx="344.90" cy="653.23" r="0.90" fill="#2a0a4a" stroke="#111" stroke-width="0.5"/>
<circle cx="346.40" cy="654.04" r="0.90" fill="#2a0a4a" stroke="#111" stroke-width="0.5"/>
<circle cx="347.90" cy="654.39" r="0.90" fill="#2a0a4a" stroke="#111" stroke-width="0.5"/>
<circle cx="349.40" cy="654.21" r="0.90" fill="#2a0a4a" stroke="#111" stroke-width="0.5"/>
<text x="328.90" y="667.80" font-size="5.25" text-anchor="middle" fill="#1a1a1a" style="stroke-width:0.04px">PBS</text>
<path d="M202.9,657.2 H353.5" fill="none" stroke="#000" stroke-width="1.2"/>
<text x="278.80" y="548.40" font-size="7.2" text-anchor="middle" fill="#1a1a1a">Anti-HOD Igs Alloantibodies</text>
<text x="278.80" y="557.60" font-size="7.2" text-anchor="middle" fill="#1a1a1a">Day 14</text>
<path d="M208.65,612.54 V596.99 M207.05,596.99 h3.2" stroke="#111" stroke-width="0.8"/>
<path d="M208.95,598.25 L210.22,596.07 L207.69,596.07Z" fill="#888" stroke="#111" stroke-width="0.5"/>
<path d="M208.62,608.08 L209.89,605.89 L207.36,605.89Z" fill="#888" stroke="#111" stroke-width="0.5"/>
<path d="M208.26,609.96 L209.53,607.77 L207.00,607.77Z" fill="#888" stroke="#111" stroke-width="0.5"/>
<circle cx="209.00" cy="638.41" r="1.15" fill="#888" stroke="#111" stroke-width="0.5"/>
<path d="M215.95,621.81 V595.42 M214.35,595.42 h3.2" stroke="#111" stroke-width="0.8"/>
<path d="M214.35,621.81 h3.2" stroke="#111" stroke-width="0.8"/>
<circle cx="215.75" cy="587.19" r="1.15" fill="#7a0a1a" stroke="#111" stroke-width="0.5"/>
<circle cx="216.31" cy="609.61" r="1.15" fill="#7a0a1a" stroke="#111" stroke-width="0.5"/>
<circle cx="216.52" cy="614.39" r="1.15" fill="#7a0a1a" stroke="#111" stroke-width="0.5"/>
<circle cx="215.83" cy="621.81" r="1.15" fill="#7a0a1a" stroke="#111" stroke-width="0.5"/>
<path d="M223.25,652.89 V645.99 M221.65,645.99 h3.2" stroke="#111" stroke-width="0.8"/>
<path d="M223.13,646.58 L224.51,647.96 L223.13,649.34 L221.75,647.96Z" fill="#6a4010" stroke="#111" stroke-width="0.5"/>
<path d="M223.79,649.66 L225.17,651.04 L223.79,652.42 L222.41,651.04Z" fill="#6a4010" stroke="#111" stroke-width="0.5"/>
<path d="M223.52,652.12 L224.90,653.50 L223.52,654.88 L222.14,653.50Z" fill="#6a4010" stroke="#111" stroke-width="0.5"/>
<path d="M230.55,623.41 V602.59 M228.95,602.59 h3.2" stroke="#111" stroke-width="0.8"/>
<path d="M228.95,623.41 h3.2" stroke="#111" stroke-width="0.8"/>
<path d="M230.15,620.58 L231.42,618.40 L228.89,618.40Z" fill="#0e2a6a" stroke="#111" stroke-width="0.5"/>
<path d="M230.10,624.68 L231.37,622.49 L228.84,622.49Z" fill="#0e2a6a" stroke="#111" stroke-width="0.5"/>
<path d="M230.13,622.12 L231.40,619.94 L228.87,619.94Z" fill="#0e2a6a" stroke="#111" stroke-width="0.5"/>
<path d="M237.85,649.04 V643.00 M236.25,643.00 h3.2" stroke="#111" stroke-width="0.8"/>
<path d="M238.34,641.74 L239.60,643.92 L237.07,643.92Z" fill="#1a5a10" stroke="#111" stroke-width="0.5"/>
<path d="M238.22,646.70 L239.48,648.88 L236.95,648.88Z" fill="#1a5a10" stroke="#111" stroke-width="0.5"/>
<path d="M237.43,649.78 L238.69,651.96 L236.16,651.96Z" fill="#1a5a10" stroke="#111" stroke-width="0.5"/>
<circle cx="245.54" cy="653.20" r="1.15" fill="#2a0a4a" stroke="#111" stroke-width="0.5"/>
<circle cx="245.73" cy="653.81" r="1.15" fill="#2a0a4a" stroke="#111" stroke-width="0.5"/>
<path d="M363.1,562.2 V657.2 H513.1" fill="none" stroke="#000" stroke-width="1.2"/>
<path d="M360.20000000000005,657.20 H363.1" stroke="#000" stroke-width="1.0"/>
<path d="M360.20000000000005,641.80 H363.1" stroke="#000" stroke-width="1.0"/>
<path d="M360.20000000000005,626.40 H363.1" stroke="#000" stroke-width="1.0"/>
<path d="M360.20000000000005,611.00 H363.1" stroke="#000" stroke-width="1.0"/>
<path d="M360.20000000000005,595.60 H363.1" stroke="#000" stroke-width="1.0"/>
<path d="M360.20000000000005,580.20 H363.1" stroke="#000" stroke-width="1.0"/>
<path d="M360.20000000000005,564.80 H363.1" stroke="#000" stroke-width="1.0"/>
<path d="M386.70,657.2 V660.0" stroke="#000" stroke-width="1.0"/>
<rect x="364.95" y="615.62" width="7.0" height="41.58" fill="#e4e4e6"/>
<rect x="372.25" y="604.53" width="7.0" height="52.67" fill="#e0907f"/>
<rect x="379.55" y="653.81" width="7.0" height="3.39" fill="#f5c98a"/>
<rect x="386.85" y="611.92" width="7.0" height="45.28" fill="#8a98cc"/>
<rect x="394.15" y="648.27" width="7.0" height="8.93" fill="#bfe3a0"/>
<rect x="401.45" y="653.81" width="7.0" height="3.39" fill="#b8a0cc"/>
<text x="386.70" y="667.80" font-size="5.25" text-anchor="middle" fill="#1a1a1a" style="stroke-width:0.04px">anti-HOD mAb IgG2c</text>
<path d="M437.70,657.2 V660.0" stroke="#000" stroke-width="1.0"/>
<rect x="415.95" y="654.43" width="7.0" height="2.77" fill="#e4e4e6"/>
<circle cx="417.20" cy="654.65" r="0.90" fill="#fff" stroke="#333" stroke-width="0.5"/>
<circle cx="418.70" cy="654.22" r="0.90" fill="#fff" stroke="#333" stroke-width="0.5"/>
<circle cx="420.20" cy="654.50" r="0.90" fill="#fff" stroke="#333" stroke-width="0.5"/>
<circle cx="421.70" cy="653.91" r="0.90" fill="#fff" stroke="#333" stroke-width="0.5"/>
<rect x="423.25" y="654.43" width="7.0" height="2.77" fill="#e0907f"/>
<rect x="423.60" y="652.85" width="1.80" height="1.80" fill="#7a0a1a" stroke="#111" stroke-width="0.5"/>
<rect x="425.10" y="654.19" width="1.80" height="1.80" fill="#7a0a1a" stroke="#111" stroke-width="0.5"/>
<rect x="426.60" y="653.74" width="1.80" height="1.80" fill="#7a0a1a" stroke="#111" stroke-width="0.5"/>
<rect x="428.10" y="653.57" width="1.80" height="1.80" fill="#7a0a1a" stroke="#111" stroke-width="0.5"/>
<rect x="430.55" y="652.89" width="7.0" height="4.31" fill="#f5c98a"/>
<path d="M431.80,652.42 L432.88,653.50 L431.80,654.58 L430.72,653.50Z" fill="#6a4010" stroke="#111" stroke-width="0.5"/>
<path d="M433.30,651.72 L434.38,652.80 L433.30,653.88 L432.22,652.80Z" fill="#6a4010" stroke="#111" stroke-width="0.5"/>
<path d="M434.80,652.33 L435.88,653.41 L434.80,654.49 L433.72,653.41Z" fill="#6a4010" stroke="#111" stroke-width="0.5"/>
<path d="M436.30,652.26 L437.38,653.34 L436.30,654.42 L435.22,653.34Z" fill="#6a4010" stroke="#111" stroke-width="0.5"/>
<rect x="437.85" y="654.12" width="7.0" height="3.08" fill="#8a98cc"/>
<path d="M439.10,654.71 L440.09,653.00 L438.11,653.00Z" fill="#0e2a6a" stroke="#111" stroke-width="0.5"/>
<path d="M440.60,654.76 L441.59,653.05 L439.61,653.05Z" fill="#0e2a6a" stroke="#111" stroke-width="0.5"/>
<path d="M442.10,654.82 L443.09,653.11 L441.11,653.11Z" fill="#0e2a6a" stroke="#111" stroke-width="0.5"/>
<path d="M443.60,654.75 L444.59,653.04 L442.61,653.04Z" fill="#0e2a6a" stroke="#111" stroke-width="0.5"/>
<rect x="445.15" y="654.43" width="7.0" height="2.77" fill="#bfe3a0"/>
<path d="M446.40,653.56 L447.39,655.27 L445.41,655.27Z" fill="#1a5a10" stroke="#111" stroke-width="0.5"/>
<path d="M447.90,653.10 L448.89,654.81 L446.91,654.81Z" fill="#1a5a10" stroke="#111" stroke-width="0.5"/>
<path d="M449.40,653.32 L450.39,655.03 L448.41,655.03Z" fill="#1a5a10" stroke="#111" stroke-width="0.5"/>
<path d="M450.90,652.92 L451.89,654.63 L449.91,654.63Z" fill="#1a5a10" stroke="#111" stroke-width="0.5"/>
<rect x="452.45" y="653.81" width="7.0" height="3.39" fill="#b8a0cc"/>
<circle cx="453.70" cy="654.39" r="0.90" fill="#2a0a4a" stroke="#111" stroke-width="0.5"/>
<circle cx="455.20" cy="653.61" r="0.90" fill="#2a0a4a" stroke="#111" stroke-width="0.5"/>
<circle cx="456.70" cy="653.75" r="0.90" fill="#2a0a4a" stroke="#111" stroke-width="0.5"/>
<circle cx="458.20" cy="653.93" r="0.90" fill="#2a0a4a" stroke="#111" stroke-width="0.5"/>
<text x="437.70" y="667.80" font-size="5.25" text-anchor="middle" fill="#1a1a1a" style="stroke-width:0.04px">anti-K mAb IgG2c</text>
<path d="M488.70,657.2 V660.0" stroke="#000" stroke-width="1.0"/>
<rect x="466.95" y="654.12" width="7.0" height="3.08" fill="#e4e4e6"/>
<circle cx="468.20" cy="654.69" r="0.90" fill="#fff" stroke="#333" stroke-width="0.5"/>
<circle cx="469.70" cy="654.01" r="0.90" fill="#fff" stroke="#333" stroke-width="0.5"/>
<circle cx="471.20" cy="654.70" r="0.90" fill="#fff" stroke="#333" stroke-width="0.5"/>
<circle cx="472.70" cy="654.12" r="0.90" fill="#fff" stroke="#333" stroke-width="0.5"/>
<rect x="474.25" y="654.12" width="7.0" height="3.08" fill="#e0907f"/>
<rect x="474.60" y="653.26" width="1.80" height="1.80" fill="#7a0a1a" stroke="#111" stroke-width="0.5"/>
<rect x="476.10" y="653.25" width="1.80" height="1.80" fill="#7a0a1a" stroke="#111" stroke-width="0.5"/>
<rect x="477.60" y="652.55" width="1.80" height="1.80" fill="#7a0a1a" stroke="#111" stroke-width="0.5"/>
<rect x="479.10" y="653.14" width="1.80" height="1.80" fill="#7a0a1a" stroke="#111" stroke-width="0.5"/>
<rect x="481.55" y="654.12" width="7.0" height="3.08" fill="#f5c98a"/>
<path d="M482.80,652.60 L483.88,653.68 L482.80,654.76 L481.72,653.68Z" fill="#6a4010" stroke="#111" stroke-width="0.5"/>
<path d="M484.30,652.35 L485.38,653.43 L484.30,654.51 L483.22,653.43Z" fill="#6a4010" stroke="#111" stroke-width="0.5"/>
<path d="M485.80,653.46 L486.88,654.54 L485.80,655.62 L484.72,654.54Z" fill="#6a4010" stroke="#111" stroke-width="0.5"/>
<path d="M487.30,652.58 L488.38,653.66 L487.30,654.74 L486.22,653.66Z" fill="#6a4010" stroke="#111" stroke-width="0.5"/>
<rect x="488.85" y="653.81" width="7.0" height="3.39" fill="#8a98cc"/>
<path d="M490.10,654.76 L491.09,653.05 L489.11,653.05Z" fill="#0e2a6a" stroke="#111" stroke-width="0.5"/>
<path d="M491.60,655.12 L492.59,653.41 L490.61,653.41Z" fill="#0e2a6a" stroke="#111" stroke-width="0.5"/>
<path d="M493.10,654.88 L494.09,653.17 L492.11,653.17Z" fill="#0e2a6a" stroke="#111" stroke-width="0.5"/>
<path d="M494.60,654.56 L495.59,652.85 L493.61,652.85Z" fill="#0e2a6a" stroke="#111" stroke-width="0.5"/>
<rect x="496.15" y="654.12" width="7.0" height="3.08" fill="#bfe3a0"/>
<path d="M497.40,653.16 L498.39,654.87 L496.41,654.87Z" fill="#1a5a10" stroke="#111" stroke-width="0.5"/>
<path d="M498.90,653.21 L499.89,654.92 L497.91,654.92Z" fill="#1a5a10" stroke="#111" stroke-width="0.5"/>
<path d="M500.40,653.53 L501.39,655.24 L499.41,655.24Z" fill="#1a5a10" stroke="#111" stroke-width="0.5"/>
<path d="M501.90,652.58 L502.89,654.29 L500.91,654.29Z" fill="#1a5a10" stroke="#111" stroke-width="0.5"/>
<rect x="503.45" y="653.81" width="7.0" height="3.39" fill="#b8a0cc"/>
<circle cx="504.70" cy="653.90" r="0.90" fill="#2a0a4a" stroke="#111" stroke-width="0.5"/>
<circle cx="506.20" cy="653.46" r="0.90" fill="#2a0a4a" stroke="#111" stroke-width="0.5"/>
<circle cx="507.70" cy="653.50" r="0.90" fill="#2a0a4a" stroke="#111" stroke-width="0.5"/>
<circle cx="509.20" cy="654.19" r="0.90" fill="#2a0a4a" stroke="#111" stroke-width="0.5"/>
<text x="488.70" y="667.80" font-size="5.25" text-anchor="middle" fill="#1a1a1a" style="stroke-width:0.04px">PBS</text>
<path d="M362.5,657.2 H513.1" fill="none" stroke="#000" stroke-width="1.2"/>
<text x="438.00" y="548.40" font-size="7.2" text-anchor="middle" fill="#1a1a1a">Anti-HOD Igs Alloantibodies</text>
<text x="438.00" y="557.60" font-size="7.2" text-anchor="middle" fill="#1a1a1a">Day 21</text>
<path d="M368.45,615.62 V605.49 M366.85,605.49 h3.2" stroke="#111" stroke-width="0.8"/>
<path d="M368.46,614.05 L369.72,611.87 L367.19,611.87Z" fill="#888" stroke="#111" stroke-width="0.5"/>
<path d="M368.52,615.35 L369.79,613.16 L367.26,613.16Z" fill="#888" stroke="#111" stroke-width="0.5"/>
<path d="M368.76,615.96 L370.03,613.78 L367.50,613.78Z" fill="#888" stroke="#111" stroke-width="0.5"/>
<circle cx="368.94" cy="635.61" r="1.15" fill="#888" stroke="#111" stroke-width="0.5"/>
<path d="M375.75,616.91 V591.60 M374.15,591.60 h3.2" stroke="#111" stroke-width="0.8"/>
<path d="M374.15,616.91 h3.2" stroke="#111" stroke-width="0.8"/>
<circle cx="375.68" cy="582.39" r="1.15" fill="#7a0a1a" stroke="#111" stroke-width="0.5"/>
<circle cx="375.89" cy="603.52" r="1.15" fill="#7a0a1a" stroke="#111" stroke-width="0.5"/>
<circle cx="375.76" cy="609.61" r="1.15" fill="#7a0a1a" stroke="#111" stroke-width="0.5"/>
<circle cx="375.76" cy="612.29" r="1.15" fill="#7a0a1a" stroke="#111" stroke-width="0.5"/>
<path d="M383.28,652.12 L384.66,653.50 L383.28,654.88 L381.90,653.50Z" fill="#6a4010" stroke="#111" stroke-width="0.5"/>
<path d="M382.99,652.74 L384.37,654.12 L382.99,655.50 L381.61,654.12Z" fill="#6a4010" stroke="#111" stroke-width="0.5"/>
<path d="M390.35,621.78 V603.52 M388.75,603.52 h3.2" stroke="#111" stroke-width="0.8"/>
<path d="M388.75,621.78 h3.2" stroke="#111" stroke-width="0.8"/>
<path d="M390.39,598.96 L391.65,596.77 L389.12,596.77Z" fill="#0e2a6a" stroke="#111" stroke-width="0.5"/>
<path d="M390.32,612.45 L391.59,610.26 L389.06,610.26Z" fill="#0e2a6a" stroke="#111" stroke-width="0.5"/>
<path d="M390.88,617.38 L392.14,615.19 L389.61,615.19Z" fill="#0e2a6a" stroke="#111" stroke-width="0.5"/>
<path d="M390.59,620.58 L391.85,618.40 L389.32,618.40Z" fill="#0e2a6a" stroke="#111" stroke-width="0.5"/>
<path d="M397.65,648.27 V643.00 M396.05,643.00 h3.2" stroke="#111" stroke-width="0.8"/>
<path d="M398.10,638.13 L399.37,640.32 L396.84,640.32Z" fill="#1a5a10" stroke="#111" stroke-width="0.5"/>
<path d="M398.18,646.54 L399.45,648.73 L396.92,648.73Z" fill="#1a5a10" stroke="#111" stroke-width="0.5"/>
<path d="M397.36,647.83 L398.63,650.02 L396.10,650.02Z" fill="#1a5a10" stroke="#111" stroke-width="0.5"/>
<path d="M397.72,650.64 L398.99,652.82 L396.46,652.82Z" fill="#1a5a10" stroke="#111" stroke-width="0.5"/>
<circle cx="405.48" cy="653.50" r="1.15" fill="#2a0a4a" stroke="#111" stroke-width="0.5"/>
<circle cx="405.36" cy="654.12" r="1.15" fill="#2a0a4a" stroke="#111" stroke-width="0.5"/>
<path d="M434.05,652.89 V647.04 M432.45,647.04 h3.2" stroke="#111" stroke-width="0.8"/>
<path d="M434.05,644.30 L435.25,645.50 L434.05,646.70 L432.85,645.50Z" fill="#6a4010" stroke="#111" stroke-width="0.5"/>
<path d="M49.5,615.5 V586.9 H86.2 V651.0" fill="none" stroke="#111" stroke-width="1.0"/>
<text x="68.50" y="587.40" font-size="4.4" text-anchor="middle" fill="#333" letter-spacing="0.25" style="stroke-width:0px">****</text>
<path d="M49.5,615.5 V592.3 H79.2 V633.8" fill="none" stroke="#111" stroke-width="1.0"/>
<text x="64.30" y="592.80" font-size="4.4" text-anchor="middle" fill="#333" letter-spacing="0.25" style="stroke-width:0px">**</text>
<path d="M49.5,615.5 V595.7 H63.8 V638.5" fill="none" stroke="#111" stroke-width="1.0"/>
<text x="57.00" y="596.20" font-size="4.4" text-anchor="middle" fill="#333" letter-spacing="0.25" style="stroke-width:0px">***</text>
<path d="M208.4,590.0 V567.7 H230.5 V576.2" fill="none" stroke="#111" stroke-width="1.0"/>
<text x="219.40" y="568.20" font-size="4.4" text-anchor="middle" fill="#333" letter-spacing="0.25" style="stroke-width:0px">****</text>
<path d="M223.5,632.8 V577.5 H241.4 V606.3" fill="none" stroke="#111" stroke-width="1.0"/>
<path d="M237.7,629.0 V606.3 H244.7 V637.2" fill="none" stroke="#111" stroke-width="1.0"/>
<path d="M367.7,591.2 V567.7 H390.0 V576.5" fill="none" stroke="#111" stroke-width="1.0"/>
<text x="379.10" y="568.20" font-size="4.4" text-anchor="middle" fill="#333" letter-spacing="0.25" style="stroke-width:0px">****</text>
<path d="M383.5,632.4 V577.5 H400.6 V606.3" fill="none" stroke="#111" stroke-width="1.0"/>
<path d="M397.7,634.8 V606.3 H404.2 V636.4" fill="none" stroke="#111" stroke-width="1.0"/>
<text x="0.00" y="0.00" font-size="6.6" text-anchor="middle" font-weight="bold" fill="#1a1a1a" transform="translate(21.20,609.50) rotate(-90)" textLength="29.6" lengthAdjust="spacingAndGlyphs">Adjusted MFI</text>
<rect x="123.7" y="581.80" width="4.8" height="4.8" fill="#c8c8d0"/>
<text x="131.80" y="586.20" font-size="5.6" text-anchor="start" fill="#1a1a1a" style="stroke-width:0.04px">C57BL/6</text>
<rect x="123.7" y="588.63" width="4.8" height="4.8" fill="#a01030"/>
<text x="131.80" y="593.03" font-size="5.6" text-anchor="start" fill="#1a1a1a" style="stroke-width:0.04px">FcR<tspan font-size="3.70" dy="0.56">γ</tspan><tspan font-size="3.25" dy="-2.52" style="stroke-width:0.06px">fl/fl</tspan></text>
<rect x="123.7" y="595.46" width="4.8" height="4.8" fill="#e8901a"/>
<text x="131.80" y="599.86" font-size="5.6" text-anchor="start" fill="#1a1a1a" style="stroke-width:0.04px">FcR<tspan font-size="3.70" dy="0.56">γ</tspan><tspan font-size="3.25" dy="-2.52" style="stroke-width:0.06px">fl/fl</tspan><tspan dy="1.96"> x CMV</tspan><tspan font-size="3.25" dy="-2.24" style="stroke-width:0.06px">Cre+</tspan></text>
<rect x="123.7" y="602.29" width="4.8" height="4.8" fill="#1a3a80"/>
<text x="131.80" y="606.69" font-size="5.6" text-anchor="start" fill="#1a1a1a" style="stroke-width:0.04px">FcR<tspan font-size="3.70" dy="0.56">γ</tspan><tspan font-size="3.25" dy="-2.52" style="stroke-width:0.06px">fl/fl</tspan><tspan dy="1.96"> x Lyz2</tspan><tspan font-size="3.25" dy="-2.24" style="stroke-width:0.06px">Cre+</tspan></text>
<rect x="123.7" y="609.12" width="4.8" height="4.8" fill="#50a030"/>
<text x="131.80" y="613.52" font-size="5.6" text-anchor="start" fill="#1a1a1a" style="stroke-width:0.04px">FcR<tspan font-size="3.70" dy="0.56">γ</tspan><tspan font-size="3.25" dy="-2.52" style="stroke-width:0.06px">fl/fl</tspan><tspan dy="1.96"> x Zbtb</tspan><tspan font-size="3.25" dy="-2.24" style="stroke-width:0.06px">Cre+</tspan></text>
<rect x="123.7" y="615.95" width="4.8" height="4.8" fill="#4a1a6a"/>
<text x="131.80" y="620.35" font-size="5.6" text-anchor="start" fill="#1a1a1a" style="stroke-width:0.04px">FcR<tspan font-size="3.70" dy="0.56">γ</tspan><tspan font-size="3.25" dy="-2.52" style="stroke-width:0.06px">fl/fl</tspan><tspan dy="1.96"> x CD11c</tspan><tspan font-size="3.25" dy="-2.24" style="stroke-width:0.06px">Cre+</tspan></text>
<rect x="0" y="0" width="520" height="1.0" fill="#000"/><rect x="0" y="0" width="1.1" height="676" fill="#000"/><rect x="518.8" y="0" width="1.2" height="676" fill="#000"/><rect x="0" y="674.6" width="520" height="1.4" fill="#000"/>
</svg></body></html>
